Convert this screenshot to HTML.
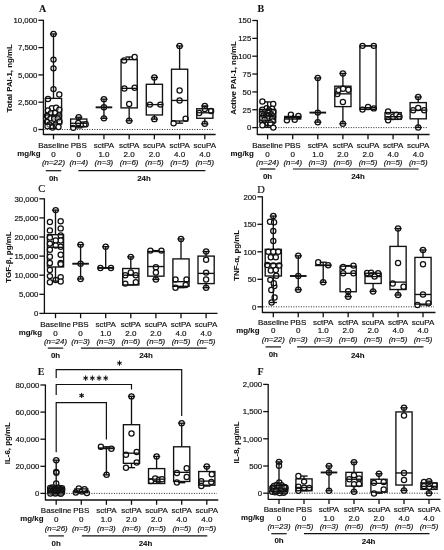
<!DOCTYPE html>
<html><head><meta charset="utf-8"><title>Figure</title>
<style>html,body{margin:0;padding:0;background:#fff}svg{display:block;will-change:transform}</style></head>
<body>
<svg width="444" height="550" viewBox="0 0 444 550">
<rect width="444" height="550" fill="#fff"/>
<text x="39.00" y="11.80" font-family="'Liberation Serif', serif" font-size="10" text-anchor="start" font-weight="bold" font-style="normal" fill="#111" stroke="#111" stroke-width="0.08" >A</text>
<text x="12.40" y="78.20" font-family="'Liberation Sans', sans-serif" font-size="7.9" text-anchor="middle" font-weight="bold" font-style="normal" fill="#111" stroke="#111" stroke-width="0.08" transform="rotate(-90 12.40 78.20)" >Total PAI-1, ng/mL</text>
<line x1="43.40" y1="19.80" x2="43.40" y2="135.00" stroke="#111" stroke-width="1.3" />
<line x1="38.40" y1="129.50" x2="43.40" y2="129.50" stroke="#111" stroke-width="1.3" />
<text x="37.40" y="132.30" font-family="'Liberation Sans', sans-serif" font-size="7.8" text-anchor="end" font-weight="normal" font-style="normal" fill="#111" stroke="#111" stroke-width="0.18" >0</text>
<line x1="38.40" y1="102.20" x2="43.40" y2="102.20" stroke="#111" stroke-width="1.3" />
<text x="37.40" y="105.00" font-family="'Liberation Sans', sans-serif" font-size="7.8" text-anchor="end" font-weight="normal" font-style="normal" fill="#111" stroke="#111" stroke-width="0.18" >2,500</text>
<line x1="38.40" y1="74.90" x2="43.40" y2="74.90" stroke="#111" stroke-width="1.3" />
<text x="37.40" y="77.70" font-family="'Liberation Sans', sans-serif" font-size="7.8" text-anchor="end" font-weight="normal" font-style="normal" fill="#111" stroke="#111" stroke-width="0.18" >5,000</text>
<line x1="38.40" y1="47.60" x2="43.40" y2="47.60" stroke="#111" stroke-width="1.3" />
<text x="37.40" y="50.40" font-family="'Liberation Sans', sans-serif" font-size="7.8" text-anchor="end" font-weight="normal" font-style="normal" fill="#111" stroke="#111" stroke-width="0.18" >7,500</text>
<line x1="38.40" y1="20.30" x2="43.40" y2="20.30" stroke="#111" stroke-width="1.3" />
<text x="37.40" y="23.10" font-family="'Liberation Sans', sans-serif" font-size="7.8" text-anchor="end" font-weight="normal" font-style="normal" fill="#111" stroke="#111" stroke-width="0.18" >10,000</text>
<line x1="43.40" y1="134.50" x2="215.60" y2="134.50" stroke="#111" stroke-width="1.3" />
<line x1="53.50" y1="134.50" x2="53.50" y2="139.30" stroke="#111" stroke-width="1.3" />
<line x1="78.72" y1="134.50" x2="78.72" y2="139.30" stroke="#111" stroke-width="1.3" />
<line x1="103.94" y1="134.50" x2="103.94" y2="139.30" stroke="#111" stroke-width="1.3" />
<line x1="129.16" y1="134.50" x2="129.16" y2="139.30" stroke="#111" stroke-width="1.3" />
<line x1="154.38" y1="134.50" x2="154.38" y2="139.30" stroke="#111" stroke-width="1.3" />
<line x1="179.60" y1="134.50" x2="179.60" y2="139.30" stroke="#111" stroke-width="1.3" />
<line x1="204.82" y1="134.50" x2="204.82" y2="139.30" stroke="#111" stroke-width="1.3" />
<line x1="44.40" y1="129.50" x2="214.10" y2="129.50" stroke="#111" stroke-width="0.9" stroke-dasharray="1 1.5"/>
<circle cx="53.50" cy="33.95" r="2.6" fill="#fff" stroke="#111" stroke-width="1.25"/>
<circle cx="53.50" cy="59.61" r="2.6" fill="#fff" stroke="#111" stroke-width="1.25"/>
<circle cx="53.50" cy="68.35" r="2.6" fill="#fff" stroke="#111" stroke-width="1.25"/>
<circle cx="53.50" cy="89.10" r="2.6" fill="#fff" stroke="#111" stroke-width="1.25"/>
<circle cx="59.30" cy="94.56" r="2.6" fill="#fff" stroke="#111" stroke-width="1.25"/>
<circle cx="48.00" cy="98.92" r="2.6" fill="#fff" stroke="#111" stroke-width="1.25"/>
<circle cx="51.90" cy="108.21" r="2.6" fill="#fff" stroke="#111" stroke-width="1.25"/>
<circle cx="56.10" cy="107.66" r="2.6" fill="#fff" stroke="#111" stroke-width="1.25"/>
<circle cx="47.90" cy="110.39" r="2.6" fill="#fff" fill-opacity="0.45" stroke="#111" stroke-width="1.25"/>
<circle cx="59.30" cy="109.84" r="2.6" fill="#fff" fill-opacity="0.45" stroke="#111" stroke-width="1.25"/>
<circle cx="50.90" cy="113.12" r="2.6" fill="#fff" fill-opacity="0.45" stroke="#111" stroke-width="1.25"/>
<circle cx="55.00" cy="112.90" r="2.6" fill="#fff" fill-opacity="0.45" stroke="#111" stroke-width="1.25"/>
<circle cx="47.00" cy="115.85" r="2.6" fill="#fff" fill-opacity="0.45" stroke="#111" stroke-width="1.25"/>
<circle cx="59.00" cy="115.52" r="2.6" fill="#fff" fill-opacity="0.45" stroke="#111" stroke-width="1.25"/>
<circle cx="50.50" cy="118.36" r="2.6" fill="#fff" fill-opacity="0.45" stroke="#111" stroke-width="1.25"/>
<circle cx="54.10" cy="118.80" r="2.6" fill="#fff" fill-opacity="0.45" stroke="#111" stroke-width="1.25"/>
<circle cx="57.70" cy="118.58" r="2.6" fill="#fff" fill-opacity="0.45" stroke="#111" stroke-width="1.25"/>
<circle cx="47.00" cy="121.86" r="2.6" fill="#fff" fill-opacity="0.45" stroke="#111" stroke-width="1.25"/>
<circle cx="59.50" cy="121.64" r="2.6" fill="#fff" fill-opacity="0.45" stroke="#111" stroke-width="1.25"/>
<circle cx="49.50" cy="124.48" r="2.6" fill="#fff" fill-opacity="0.45" stroke="#111" stroke-width="1.25"/>
<circle cx="55.50" cy="124.70" r="2.6" fill="#fff" fill-opacity="0.45" stroke="#111" stroke-width="1.25"/>
<circle cx="52.50" cy="127.53" r="2.6" fill="#fff" stroke="#111" stroke-width="1.25"/>
<circle cx="58.50" cy="126.99" r="2.6" fill="#fff" stroke="#111" stroke-width="1.25"/>
<circle cx="47.50" cy="126.22" r="2.6" fill="#fff" fill-opacity="0.45" stroke="#111" stroke-width="1.25"/>
<rect x="45.40" y="98.38" width="16.20" height="25.66" fill="none" stroke="#111" stroke-width="1.35"/>
<line x1="45.40" y1="114.98" x2="61.60" y2="114.98" stroke="#111" stroke-width="1.35" />
<line x1="53.50" y1="98.38" x2="53.50" y2="33.95" stroke="#111" stroke-width="1.35" />
<line x1="53.50" y1="124.04" x2="53.50" y2="128.41" stroke="#111" stroke-width="1.35" />
<line x1="49.90" y1="33.95" x2="57.10" y2="33.95" stroke="#111" stroke-width="1.35" />
<line x1="49.90" y1="128.41" x2="57.10" y2="128.41" stroke="#111" stroke-width="1.35" />
<circle cx="78.72" cy="117.27" r="2.6" fill="#fff" stroke="#111" stroke-width="1.25"/>
<circle cx="82.72" cy="124.59" r="2.6" fill="#fff" stroke="#111" stroke-width="1.25"/>
<circle cx="78.22" cy="122.95" r="2.6" fill="#fff" stroke="#111" stroke-width="1.25"/>
<circle cx="73.22" cy="127.86" r="2.6" fill="#fff" stroke="#111" stroke-width="1.25"/>
<circle cx="85.72" cy="124.26" r="2.6" fill="#fff" stroke="#111" stroke-width="1.25"/>
<rect x="70.62" y="119.02" width="16.20" height="7.53" fill="none" stroke="#111" stroke-width="1.35"/>
<line x1="70.62" y1="123.28" x2="86.82" y2="123.28" stroke="#111" stroke-width="1.35" />
<line x1="78.72" y1="119.02" x2="78.72" y2="117.27" stroke="#111" stroke-width="1.35" />
<line x1="78.72" y1="126.55" x2="78.72" y2="127.86" stroke="#111" stroke-width="1.35" />
<line x1="75.12" y1="117.27" x2="82.32" y2="117.27" stroke="#111" stroke-width="1.35" />
<line x1="75.12" y1="127.86" x2="82.32" y2="127.86" stroke="#111" stroke-width="1.35" />
<circle cx="103.94" cy="99.14" r="2.6" fill="#fff" stroke="#111" stroke-width="1.25"/>
<circle cx="103.94" cy="107.33" r="2.6" fill="#fff" stroke="#111" stroke-width="1.25"/>
<circle cx="103.94" cy="118.36" r="2.6" fill="#fff" stroke="#111" stroke-width="1.25"/>
<line x1="103.94" y1="118.36" x2="103.94" y2="99.14" stroke="#111" stroke-width="1.35" />
<line x1="100.34" y1="118.36" x2="107.54" y2="118.36" stroke="#111" stroke-width="1.35" />
<line x1="100.34" y1="99.14" x2="107.54" y2="99.14" stroke="#111" stroke-width="1.35" />
<line x1="95.64" y1="107.33" x2="112.24" y2="107.33" stroke="#111" stroke-width="1.9" />
<circle cx="134.66" cy="56.99" r="2.6" fill="#fff" stroke="#111" stroke-width="1.25"/>
<circle cx="124.16" cy="60.49" r="2.6" fill="#fff" stroke="#111" stroke-width="1.25"/>
<circle cx="124.36" cy="88.55" r="2.6" fill="#fff" stroke="#111" stroke-width="1.25"/>
<circle cx="134.66" cy="87.68" r="2.6" fill="#fff" stroke="#111" stroke-width="1.25"/>
<circle cx="129.16" cy="104.06" r="2.6" fill="#fff" stroke="#111" stroke-width="1.25"/>
<circle cx="129.16" cy="120.76" r="2.6" fill="#fff" stroke="#111" stroke-width="1.25"/>
<rect x="121.06" y="59.61" width="16.20" height="48.27" fill="none" stroke="#111" stroke-width="1.35"/>
<line x1="121.06" y1="88.33" x2="137.26" y2="88.33" stroke="#111" stroke-width="1.35" />
<line x1="129.16" y1="59.61" x2="129.16" y2="56.99" stroke="#111" stroke-width="1.35" />
<line x1="129.16" y1="107.88" x2="129.16" y2="120.76" stroke="#111" stroke-width="1.35" />
<line x1="125.56" y1="56.99" x2="132.76" y2="56.99" stroke="#111" stroke-width="1.35" />
<line x1="125.56" y1="120.76" x2="132.76" y2="120.76" stroke="#111" stroke-width="1.35" />
<circle cx="154.38" cy="77.41" r="2.6" fill="#fff" stroke="#111" stroke-width="1.25"/>
<circle cx="149.88" cy="104.60" r="2.6" fill="#fff" stroke="#111" stroke-width="1.25"/>
<circle cx="160.38" cy="104.60" r="2.6" fill="#fff" stroke="#111" stroke-width="1.25"/>
<circle cx="154.38" cy="119.13" r="2.6" fill="#fff" stroke="#111" stroke-width="1.25"/>
<rect x="146.28" y="84.29" width="16.20" height="30.69" fill="none" stroke="#111" stroke-width="1.35"/>
<line x1="146.28" y1="104.60" x2="162.48" y2="104.60" stroke="#111" stroke-width="1.35" />
<line x1="154.38" y1="84.29" x2="154.38" y2="77.41" stroke="#111" stroke-width="1.35" />
<line x1="154.38" y1="114.98" x2="154.38" y2="119.13" stroke="#111" stroke-width="1.35" />
<line x1="150.78" y1="77.41" x2="157.98" y2="77.41" stroke="#111" stroke-width="1.35" />
<line x1="150.78" y1="119.13" x2="157.98" y2="119.13" stroke="#111" stroke-width="1.35" />
<circle cx="179.60" cy="45.96" r="2.6" fill="#fff" stroke="#111" stroke-width="1.25"/>
<circle cx="179.60" cy="90.52" r="2.6" fill="#fff" stroke="#111" stroke-width="1.25"/>
<circle cx="179.60" cy="100.45" r="2.6" fill="#fff" stroke="#111" stroke-width="1.25"/>
<circle cx="185.60" cy="118.80" r="2.6" fill="#fff" stroke="#111" stroke-width="1.25"/>
<circle cx="173.60" cy="123.17" r="2.6" fill="#fff" stroke="#111" stroke-width="1.25"/>
<rect x="171.50" y="69.22" width="16.20" height="51.76" fill="none" stroke="#111" stroke-width="1.35"/>
<line x1="171.50" y1="100.45" x2="187.70" y2="100.45" stroke="#111" stroke-width="1.35" />
<line x1="179.60" y1="69.22" x2="179.60" y2="45.96" stroke="#111" stroke-width="1.35" />
<line x1="179.60" y1="120.98" x2="179.60" y2="123.17" stroke="#111" stroke-width="1.35" />
<line x1="176.00" y1="45.96" x2="183.20" y2="45.96" stroke="#111" stroke-width="1.35" />
<line x1="176.00" y1="123.17" x2="183.20" y2="123.17" stroke="#111" stroke-width="1.35" />
<circle cx="204.82" cy="105.97" r="2.6" fill="#fff" stroke="#111" stroke-width="1.25"/>
<circle cx="199.22" cy="112.90" r="2.6" fill="#fff" stroke="#111" stroke-width="1.25"/>
<circle cx="211.12" cy="110.94" r="2.6" fill="#fff" stroke="#111" stroke-width="1.25"/>
<circle cx="204.82" cy="108.97" r="2.6" fill="#fff" stroke="#111" stroke-width="1.25"/>
<circle cx="204.82" cy="123.82" r="2.6" fill="#fff" stroke="#111" stroke-width="1.25"/>
<rect x="196.72" y="108.75" width="16.20" height="9.50" fill="none" stroke="#111" stroke-width="1.35"/>
<line x1="196.72" y1="112.79" x2="212.92" y2="112.79" stroke="#111" stroke-width="1.35" />
<line x1="204.82" y1="108.75" x2="204.82" y2="105.97" stroke="#111" stroke-width="1.35" />
<line x1="204.82" y1="118.25" x2="204.82" y2="123.82" stroke="#111" stroke-width="1.35" />
<line x1="201.22" y1="105.97" x2="208.42" y2="105.97" stroke="#111" stroke-width="1.35" />
<line x1="201.22" y1="123.82" x2="208.42" y2="123.82" stroke="#111" stroke-width="1.35" />
<text x="53.50" y="147.90" font-family="'Liberation Sans', sans-serif" font-size="8.0" text-anchor="middle" font-weight="normal" font-style="normal" fill="#111" stroke="#111" stroke-width="0.18" >Baseline</text>
<text x="53.50" y="156.60" font-family="'Liberation Sans', sans-serif" font-size="8.0" text-anchor="middle" font-weight="normal" font-style="normal" fill="#111" stroke="#111" stroke-width="0.18" >0</text>
<text x="53.50" y="165.40" font-family="'Liberation Sans', sans-serif" font-size="7.9" text-anchor="middle" font-weight="normal" font-style="italic" fill="#111" stroke="#111" stroke-width="0.18" >(n=22)</text>
<text x="78.72" y="147.90" font-family="'Liberation Sans', sans-serif" font-size="8.0" text-anchor="middle" font-weight="normal" font-style="normal" fill="#111" stroke="#111" stroke-width="0.18" >PBS</text>
<text x="78.72" y="156.60" font-family="'Liberation Sans', sans-serif" font-size="8.0" text-anchor="middle" font-weight="normal" font-style="normal" fill="#111" stroke="#111" stroke-width="0.18" >0</text>
<text x="78.72" y="165.40" font-family="'Liberation Sans', sans-serif" font-size="7.9" text-anchor="middle" font-weight="normal" font-style="italic" fill="#111" stroke="#111" stroke-width="0.18" >(n=4)</text>
<text x="103.94" y="147.90" font-family="'Liberation Sans', sans-serif" font-size="8.0" text-anchor="middle" font-weight="normal" font-style="normal" fill="#111" stroke="#111" stroke-width="0.18" >sctPA</text>
<text x="103.94" y="156.60" font-family="'Liberation Sans', sans-serif" font-size="8.0" text-anchor="middle" font-weight="normal" font-style="normal" fill="#111" stroke="#111" stroke-width="0.18" >1.0</text>
<text x="103.94" y="165.40" font-family="'Liberation Sans', sans-serif" font-size="7.9" text-anchor="middle" font-weight="normal" font-style="italic" fill="#111" stroke="#111" stroke-width="0.18" >(n=3)</text>
<text x="129.16" y="147.90" font-family="'Liberation Sans', sans-serif" font-size="8.0" text-anchor="middle" font-weight="normal" font-style="normal" fill="#111" stroke="#111" stroke-width="0.18" >sctPA</text>
<text x="129.16" y="156.60" font-family="'Liberation Sans', sans-serif" font-size="8.0" text-anchor="middle" font-weight="normal" font-style="normal" fill="#111" stroke="#111" stroke-width="0.18" >2.0</text>
<text x="129.16" y="165.40" font-family="'Liberation Sans', sans-serif" font-size="7.9" text-anchor="middle" font-weight="normal" font-style="italic" fill="#111" stroke="#111" stroke-width="0.18" >(n=6)</text>
<text x="154.38" y="147.90" font-family="'Liberation Sans', sans-serif" font-size="8.0" text-anchor="middle" font-weight="normal" font-style="normal" fill="#111" stroke="#111" stroke-width="0.18" >scuPA</text>
<text x="154.38" y="156.60" font-family="'Liberation Sans', sans-serif" font-size="8.0" text-anchor="middle" font-weight="normal" font-style="normal" fill="#111" stroke="#111" stroke-width="0.18" >2.0</text>
<text x="154.38" y="165.40" font-family="'Liberation Sans', sans-serif" font-size="7.9" text-anchor="middle" font-weight="normal" font-style="italic" fill="#111" stroke="#111" stroke-width="0.18" >(n=5)</text>
<text x="179.60" y="147.90" font-family="'Liberation Sans', sans-serif" font-size="8.0" text-anchor="middle" font-weight="normal" font-style="normal" fill="#111" stroke="#111" stroke-width="0.18" >sctPA</text>
<text x="179.60" y="156.60" font-family="'Liberation Sans', sans-serif" font-size="8.0" text-anchor="middle" font-weight="normal" font-style="normal" fill="#111" stroke="#111" stroke-width="0.18" >4.0</text>
<text x="179.60" y="165.40" font-family="'Liberation Sans', sans-serif" font-size="7.9" text-anchor="middle" font-weight="normal" font-style="italic" fill="#111" stroke="#111" stroke-width="0.18" >(n=5)</text>
<text x="204.82" y="147.90" font-family="'Liberation Sans', sans-serif" font-size="8.0" text-anchor="middle" font-weight="normal" font-style="normal" fill="#111" stroke="#111" stroke-width="0.18" >scuPA</text>
<text x="204.82" y="156.60" font-family="'Liberation Sans', sans-serif" font-size="8.0" text-anchor="middle" font-weight="normal" font-style="normal" fill="#111" stroke="#111" stroke-width="0.18" >4.0</text>
<text x="204.82" y="165.40" font-family="'Liberation Sans', sans-serif" font-size="7.9" text-anchor="middle" font-weight="normal" font-style="italic" fill="#111" stroke="#111" stroke-width="0.18" >(n=5)</text>
<text x="40.60" y="155.60" font-family="'Liberation Sans', sans-serif" font-size="7.9" text-anchor="end" font-weight="bold" font-style="normal" fill="#111" stroke="#111" stroke-width="0.08" >mg/kg</text>
<line x1="45.80" y1="170.70" x2="61.20" y2="170.70" stroke="#111" stroke-width="1.2" />
<text x="53.50" y="180.70" font-family="'Liberation Sans', sans-serif" font-size="7.9" text-anchor="middle" font-weight="bold" font-style="normal" fill="#111" stroke="#111" stroke-width="0.08" >0h</text>
<line x1="78.32" y1="170.70" x2="205.32" y2="170.70" stroke="#111" stroke-width="1.2" />
<text x="144.00" y="180.70" font-family="'Liberation Sans', sans-serif" font-size="7.9" text-anchor="middle" font-weight="bold" font-style="normal" fill="#111" stroke="#111" stroke-width="0.08" >24h</text>
<text x="257.50" y="11.80" font-family="'Liberation Serif', serif" font-size="10" text-anchor="start" font-weight="bold" font-style="normal" fill="#111" stroke="#111" stroke-width="0.08" >B</text>
<text x="235.60" y="78.00" font-family="'Liberation Sans', sans-serif" font-size="7.9" text-anchor="middle" font-weight="bold" font-style="normal" fill="#111" stroke="#111" stroke-width="0.08" transform="rotate(-90 235.60 78.00)" >Active PAI-1, ng/mL</text>
<line x1="257.30" y1="20.00" x2="257.30" y2="135.00" stroke="#111" stroke-width="1.3" />
<line x1="252.30" y1="127.60" x2="257.30" y2="127.60" stroke="#111" stroke-width="1.3" />
<text x="251.30" y="130.40" font-family="'Liberation Sans', sans-serif" font-size="7.8" text-anchor="end" font-weight="normal" font-style="normal" fill="#111" stroke="#111" stroke-width="0.18" >0</text>
<line x1="252.30" y1="109.75" x2="257.30" y2="109.75" stroke="#111" stroke-width="1.3" />
<text x="251.30" y="112.55" font-family="'Liberation Sans', sans-serif" font-size="7.8" text-anchor="end" font-weight="normal" font-style="normal" fill="#111" stroke="#111" stroke-width="0.18" >25</text>
<line x1="252.30" y1="91.90" x2="257.30" y2="91.90" stroke="#111" stroke-width="1.3" />
<text x="251.30" y="94.70" font-family="'Liberation Sans', sans-serif" font-size="7.8" text-anchor="end" font-weight="normal" font-style="normal" fill="#111" stroke="#111" stroke-width="0.18" >50</text>
<line x1="252.30" y1="74.05" x2="257.30" y2="74.05" stroke="#111" stroke-width="1.3" />
<text x="251.30" y="76.85" font-family="'Liberation Sans', sans-serif" font-size="7.8" text-anchor="end" font-weight="normal" font-style="normal" fill="#111" stroke="#111" stroke-width="0.18" >75</text>
<line x1="252.30" y1="56.20" x2="257.30" y2="56.20" stroke="#111" stroke-width="1.3" />
<text x="251.30" y="59.00" font-family="'Liberation Sans', sans-serif" font-size="7.8" text-anchor="end" font-weight="normal" font-style="normal" fill="#111" stroke="#111" stroke-width="0.18" >100</text>
<line x1="252.30" y1="38.35" x2="257.30" y2="38.35" stroke="#111" stroke-width="1.3" />
<text x="251.30" y="41.15" font-family="'Liberation Sans', sans-serif" font-size="7.8" text-anchor="end" font-weight="normal" font-style="normal" fill="#111" stroke="#111" stroke-width="0.18" >125</text>
<line x1="252.30" y1="20.50" x2="257.30" y2="20.50" stroke="#111" stroke-width="1.3" />
<text x="251.30" y="23.30" font-family="'Liberation Sans', sans-serif" font-size="7.8" text-anchor="end" font-weight="normal" font-style="normal" fill="#111" stroke="#111" stroke-width="0.18" >150</text>
<line x1="257.30" y1="134.50" x2="429.60" y2="134.50" stroke="#111" stroke-width="1.3" />
<line x1="267.60" y1="134.50" x2="267.60" y2="139.30" stroke="#111" stroke-width="1.3" />
<line x1="292.70" y1="134.50" x2="292.70" y2="139.30" stroke="#111" stroke-width="1.3" />
<line x1="317.80" y1="134.50" x2="317.80" y2="139.30" stroke="#111" stroke-width="1.3" />
<line x1="342.90" y1="134.50" x2="342.90" y2="139.30" stroke="#111" stroke-width="1.3" />
<line x1="368.00" y1="134.50" x2="368.00" y2="139.30" stroke="#111" stroke-width="1.3" />
<line x1="393.10" y1="134.50" x2="393.10" y2="139.30" stroke="#111" stroke-width="1.3" />
<line x1="418.20" y1="134.50" x2="418.20" y2="139.30" stroke="#111" stroke-width="1.3" />
<line x1="258.30" y1="127.60" x2="428.10" y2="127.60" stroke="#111" stroke-width="0.9" stroke-dasharray="1 1.5"/>
<circle cx="262.40" cy="101.54" r="2.6" fill="#fff" stroke="#111" stroke-width="1.25"/>
<circle cx="273.20" cy="104.04" r="2.6" fill="#fff" stroke="#111" stroke-width="1.25"/>
<circle cx="266.60" cy="108.32" r="2.6" fill="#fff" stroke="#111" stroke-width="1.25"/>
<circle cx="272.10" cy="108.68" r="2.6" fill="#fff" stroke="#111" stroke-width="1.25"/>
<circle cx="262.30" cy="109.75" r="2.6" fill="#fff" stroke="#111" stroke-width="1.25"/>
<circle cx="269.10" cy="110.46" r="2.6" fill="#fff" fill-opacity="0.35" stroke="#111" stroke-width="1.25"/>
<circle cx="273.40" cy="111.89" r="2.6" fill="#fff" fill-opacity="0.35" stroke="#111" stroke-width="1.25"/>
<circle cx="264.60" cy="112.25" r="2.6" fill="#fff" fill-opacity="0.35" stroke="#111" stroke-width="1.25"/>
<circle cx="268.10" cy="112.96" r="2.6" fill="#fff" fill-opacity="0.35" stroke="#111" stroke-width="1.25"/>
<circle cx="262.10" cy="113.68" r="2.6" fill="#fff" fill-opacity="0.35" stroke="#111" stroke-width="1.25"/>
<circle cx="271.10" cy="114.39" r="2.6" fill="#fff" fill-opacity="0.35" stroke="#111" stroke-width="1.25"/>
<circle cx="266.10" cy="114.75" r="2.6" fill="#fff" fill-opacity="0.35" stroke="#111" stroke-width="1.25"/>
<circle cx="263.60" cy="115.46" r="2.6" fill="#fff" fill-opacity="0.35" stroke="#111" stroke-width="1.25"/>
<circle cx="268.60" cy="115.82" r="2.6" fill="#fff" fill-opacity="0.35" stroke="#111" stroke-width="1.25"/>
<circle cx="273.10" cy="116.18" r="2.6" fill="#fff" fill-opacity="0.35" stroke="#111" stroke-width="1.25"/>
<circle cx="265.10" cy="116.89" r="2.6" fill="#fff" fill-opacity="0.35" stroke="#111" stroke-width="1.25"/>
<circle cx="270.10" cy="117.25" r="2.6" fill="#fff" fill-opacity="0.35" stroke="#111" stroke-width="1.25"/>
<circle cx="262.10" cy="117.96" r="2.6" fill="#fff" fill-opacity="0.35" stroke="#111" stroke-width="1.25"/>
<circle cx="267.60" cy="118.32" r="2.6" fill="#fff" fill-opacity="0.35" stroke="#111" stroke-width="1.25"/>
<circle cx="272.10" cy="119.03" r="2.6" fill="#fff" fill-opacity="0.35" stroke="#111" stroke-width="1.25"/>
<circle cx="264.60" cy="119.75" r="2.6" fill="#fff" fill-opacity="0.35" stroke="#111" stroke-width="1.25"/>
<circle cx="272.80" cy="121.53" r="2.6" fill="#fff" stroke="#111" stroke-width="1.25"/>
<circle cx="265.20" cy="123.32" r="2.6" fill="#fff" stroke="#111" stroke-width="1.25"/>
<circle cx="267.80" cy="123.32" r="2.6" fill="#fff" stroke="#111" stroke-width="1.25"/>
<circle cx="270.40" cy="123.32" r="2.6" fill="#fff" stroke="#111" stroke-width="1.25"/>
<circle cx="262.40" cy="125.17" r="2.6" fill="#fff" stroke="#111" stroke-width="1.25"/>
<circle cx="273.30" cy="127.60" r="2.6" fill="#fff" stroke="#111" stroke-width="1.25"/>
<rect x="259.50" y="109.39" width="16.20" height="12.85" fill="none" stroke="#111" stroke-width="1.35"/>
<line x1="259.50" y1="115.82" x2="275.70" y2="115.82" stroke="#111" stroke-width="1.35" />
<line x1="267.60" y1="109.39" x2="267.60" y2="101.90" stroke="#111" stroke-width="1.35" />
<line x1="267.60" y1="122.24" x2="267.60" y2="127.39" stroke="#111" stroke-width="1.35" />
<line x1="264.40" y1="101.90" x2="270.80" y2="101.90" stroke="#111" stroke-width="1.35" />
<line x1="264.40" y1="127.39" x2="270.80" y2="127.39" stroke="#111" stroke-width="1.35" />
<circle cx="286.90" cy="120.25" r="2.6" fill="#fff" stroke="#111" stroke-width="1.25"/>
<circle cx="290.90" cy="114.75" r="2.6" fill="#fff" stroke="#111" stroke-width="1.25"/>
<circle cx="294.70" cy="119.67" r="2.6" fill="#fff" stroke="#111" stroke-width="1.25"/>
<circle cx="298.40" cy="115.96" r="2.6" fill="#fff" stroke="#111" stroke-width="1.25"/>
<rect x="284.70" y="116.46" width="16.00" height="2.57" fill="none" stroke="#111" stroke-width="1.35"/>
<line x1="284.70" y1="117.60" x2="300.70" y2="117.60" stroke="#111" stroke-width="1.35" />
<line x1="292.70" y1="116.46" x2="292.70" y2="114.75" stroke="#111" stroke-width="1.35" />
<line x1="292.70" y1="119.03" x2="292.70" y2="120.25" stroke="#111" stroke-width="1.35" />
<line x1="292.70" y1="114.75" x2="292.70" y2="114.75" stroke="#111" stroke-width="1.35" />
<line x1="292.70" y1="120.25" x2="292.70" y2="120.25" stroke="#111" stroke-width="1.35" />
<circle cx="317.80" cy="77.91" r="2.6" fill="#fff" stroke="#111" stroke-width="1.25"/>
<circle cx="317.80" cy="112.61" r="2.6" fill="#fff" stroke="#111" stroke-width="1.25"/>
<circle cx="317.80" cy="122.17" r="2.6" fill="#fff" stroke="#111" stroke-width="1.25"/>
<line x1="317.80" y1="122.17" x2="317.80" y2="77.91" stroke="#111" stroke-width="1.35" />
<line x1="314.20" y1="122.17" x2="321.40" y2="122.17" stroke="#111" stroke-width="1.35" />
<line x1="314.20" y1="77.91" x2="321.40" y2="77.91" stroke="#111" stroke-width="1.35" />
<line x1="309.50" y1="112.61" x2="326.10" y2="112.61" stroke="#111" stroke-width="1.9" />
<circle cx="342.90" cy="73.48" r="2.6" fill="#fff" stroke="#111" stroke-width="1.25"/>
<circle cx="337.40" cy="94.04" r="2.6" fill="#fff" stroke="#111" stroke-width="1.25"/>
<circle cx="338.50" cy="90.11" r="2.6" fill="#fff" stroke="#111" stroke-width="1.25"/>
<circle cx="343.10" cy="88.83" r="2.6" fill="#fff" stroke="#111" stroke-width="1.25"/>
<circle cx="348.40" cy="89.76" r="2.6" fill="#fff" stroke="#111" stroke-width="1.25"/>
<circle cx="342.90" cy="101.90" r="2.6" fill="#fff" stroke="#111" stroke-width="1.25"/>
<circle cx="342.90" cy="123.74" r="2.6" fill="#fff" stroke="#111" stroke-width="1.25"/>
<rect x="334.80" y="86.19" width="16.20" height="20.42" fill="none" stroke="#111" stroke-width="1.35"/>
<line x1="334.80" y1="93.83" x2="351.00" y2="93.83" stroke="#111" stroke-width="1.35" />
<line x1="342.90" y1="86.19" x2="342.90" y2="73.48" stroke="#111" stroke-width="1.35" />
<line x1="342.90" y1="106.61" x2="342.90" y2="123.74" stroke="#111" stroke-width="1.35" />
<line x1="339.30" y1="73.48" x2="346.50" y2="73.48" stroke="#111" stroke-width="1.35" />
<line x1="339.30" y1="123.74" x2="346.50" y2="123.74" stroke="#111" stroke-width="1.35" />
<circle cx="362.50" cy="45.85" r="2.6" fill="#fff" stroke="#111" stroke-width="1.25"/>
<circle cx="373.80" cy="45.85" r="2.6" fill="#fff" stroke="#111" stroke-width="1.25"/>
<circle cx="362.50" cy="109.61" r="2.6" fill="#fff" stroke="#111" stroke-width="1.25"/>
<circle cx="368.00" cy="106.97" r="2.6" fill="#fff" stroke="#111" stroke-width="1.25"/>
<circle cx="373.80" cy="108.39" r="2.6" fill="#fff" stroke="#111" stroke-width="1.25"/>
<rect x="359.90" y="45.85" width="16.20" height="63.47" fill="none" stroke="#111" stroke-width="1.35"/>
<line x1="359.90" y1="107.61" x2="376.10" y2="107.61" stroke="#111" stroke-width="1.35" />
<line x1="368.00" y1="45.85" x2="368.00" y2="45.85" stroke="#111" stroke-width="1.35" />
<line x1="368.00" y1="109.32" x2="368.00" y2="109.39" stroke="#111" stroke-width="1.35" />
<line x1="364.40" y1="45.85" x2="371.60" y2="45.85" stroke="#111" stroke-width="1.35" />
<line x1="364.40" y1="109.39" x2="371.60" y2="109.39" stroke="#111" stroke-width="1.35" />
<circle cx="388.10" cy="111.53" r="2.6" fill="#fff" stroke="#111" stroke-width="1.25"/>
<circle cx="388.10" cy="120.25" r="2.6" fill="#fff" stroke="#111" stroke-width="1.25"/>
<circle cx="393.10" cy="116.68" r="2.6" fill="#fff" stroke="#111" stroke-width="1.25"/>
<circle cx="396.40" cy="114.75" r="2.6" fill="#fff" stroke="#111" stroke-width="1.25"/>
<circle cx="399.50" cy="116.68" r="2.6" fill="#fff" stroke="#111" stroke-width="1.25"/>
<rect x="385.00" y="112.61" width="16.20" height="6.78" fill="none" stroke="#111" stroke-width="1.35"/>
<line x1="385.00" y1="116.68" x2="401.20" y2="116.68" stroke="#111" stroke-width="1.35" />
<line x1="393.10" y1="112.61" x2="393.10" y2="111.53" stroke="#111" stroke-width="1.35" />
<line x1="393.10" y1="119.39" x2="393.10" y2="120.25" stroke="#111" stroke-width="1.35" />
<line x1="393.10" y1="111.53" x2="393.10" y2="111.53" stroke="#111" stroke-width="1.35" />
<line x1="393.10" y1="120.25" x2="393.10" y2="120.25" stroke="#111" stroke-width="1.35" />
<circle cx="418.20" cy="96.97" r="2.6" fill="#fff" stroke="#111" stroke-width="1.25"/>
<circle cx="413.20" cy="110.18" r="2.6" fill="#fff" stroke="#111" stroke-width="1.25"/>
<circle cx="418.20" cy="107.97" r="2.6" fill="#fff" stroke="#111" stroke-width="1.25"/>
<circle cx="424.20" cy="110.18" r="2.6" fill="#fff" stroke="#111" stroke-width="1.25"/>
<circle cx="418.20" cy="127.46" r="2.6" fill="#fff" stroke="#111" stroke-width="1.25"/>
<rect x="410.10" y="102.61" width="16.20" height="16.21" fill="none" stroke="#111" stroke-width="1.35"/>
<line x1="410.10" y1="110.18" x2="426.30" y2="110.18" stroke="#111" stroke-width="1.35" />
<line x1="418.20" y1="102.61" x2="418.20" y2="96.97" stroke="#111" stroke-width="1.35" />
<line x1="418.20" y1="118.82" x2="418.20" y2="127.46" stroke="#111" stroke-width="1.35" />
<line x1="414.60" y1="96.97" x2="421.80" y2="96.97" stroke="#111" stroke-width="1.35" />
<line x1="414.60" y1="127.46" x2="421.80" y2="127.46" stroke="#111" stroke-width="1.35" />
<text x="267.60" y="148.20" font-family="'Liberation Sans', sans-serif" font-size="8.0" text-anchor="middle" font-weight="normal" font-style="normal" fill="#111" stroke="#111" stroke-width="0.18" >Baseline</text>
<text x="267.60" y="156.90" font-family="'Liberation Sans', sans-serif" font-size="8.0" text-anchor="middle" font-weight="normal" font-style="normal" fill="#111" stroke="#111" stroke-width="0.18" >0</text>
<text x="267.60" y="165.00" font-family="'Liberation Sans', sans-serif" font-size="7.9" text-anchor="middle" font-weight="normal" font-style="italic" fill="#111" stroke="#111" stroke-width="0.18" >(n=24)</text>
<text x="292.70" y="148.20" font-family="'Liberation Sans', sans-serif" font-size="8.0" text-anchor="middle" font-weight="normal" font-style="normal" fill="#111" stroke="#111" stroke-width="0.18" >PBS</text>
<text x="292.70" y="156.90" font-family="'Liberation Sans', sans-serif" font-size="8.0" text-anchor="middle" font-weight="normal" font-style="normal" fill="#111" stroke="#111" stroke-width="0.18" >0</text>
<text x="292.70" y="165.00" font-family="'Liberation Sans', sans-serif" font-size="7.9" text-anchor="middle" font-weight="normal" font-style="italic" fill="#111" stroke="#111" stroke-width="0.18" >(n=4)</text>
<text x="317.80" y="148.20" font-family="'Liberation Sans', sans-serif" font-size="8.0" text-anchor="middle" font-weight="normal" font-style="normal" fill="#111" stroke="#111" stroke-width="0.18" >sctPA</text>
<text x="317.80" y="156.90" font-family="'Liberation Sans', sans-serif" font-size="8.0" text-anchor="middle" font-weight="normal" font-style="normal" fill="#111" stroke="#111" stroke-width="0.18" >1.0</text>
<text x="317.80" y="165.00" font-family="'Liberation Sans', sans-serif" font-size="7.9" text-anchor="middle" font-weight="normal" font-style="italic" fill="#111" stroke="#111" stroke-width="0.18" >(n=3)</text>
<text x="342.90" y="148.20" font-family="'Liberation Sans', sans-serif" font-size="8.0" text-anchor="middle" font-weight="normal" font-style="normal" fill="#111" stroke="#111" stroke-width="0.18" >sctPA</text>
<text x="342.90" y="156.90" font-family="'Liberation Sans', sans-serif" font-size="8.0" text-anchor="middle" font-weight="normal" font-style="normal" fill="#111" stroke="#111" stroke-width="0.18" >2.0</text>
<text x="342.90" y="165.00" font-family="'Liberation Sans', sans-serif" font-size="7.9" text-anchor="middle" font-weight="normal" font-style="italic" fill="#111" stroke="#111" stroke-width="0.18" >(n=6)</text>
<text x="368.00" y="148.20" font-family="'Liberation Sans', sans-serif" font-size="8.0" text-anchor="middle" font-weight="normal" font-style="normal" fill="#111" stroke="#111" stroke-width="0.18" >scuPA</text>
<text x="368.00" y="156.90" font-family="'Liberation Sans', sans-serif" font-size="8.0" text-anchor="middle" font-weight="normal" font-style="normal" fill="#111" stroke="#111" stroke-width="0.18" >2.0</text>
<text x="368.00" y="165.00" font-family="'Liberation Sans', sans-serif" font-size="7.9" text-anchor="middle" font-weight="normal" font-style="italic" fill="#111" stroke="#111" stroke-width="0.18" >(n=5)</text>
<text x="393.10" y="148.20" font-family="'Liberation Sans', sans-serif" font-size="8.0" text-anchor="middle" font-weight="normal" font-style="normal" fill="#111" stroke="#111" stroke-width="0.18" >sctPA</text>
<text x="393.10" y="156.90" font-family="'Liberation Sans', sans-serif" font-size="8.0" text-anchor="middle" font-weight="normal" font-style="normal" fill="#111" stroke="#111" stroke-width="0.18" >4.0</text>
<text x="393.10" y="165.00" font-family="'Liberation Sans', sans-serif" font-size="7.9" text-anchor="middle" font-weight="normal" font-style="italic" fill="#111" stroke="#111" stroke-width="0.18" >(n=5)</text>
<text x="418.20" y="148.20" font-family="'Liberation Sans', sans-serif" font-size="8.0" text-anchor="middle" font-weight="normal" font-style="normal" fill="#111" stroke="#111" stroke-width="0.18" >scuPA</text>
<text x="418.20" y="156.90" font-family="'Liberation Sans', sans-serif" font-size="8.0" text-anchor="middle" font-weight="normal" font-style="normal" fill="#111" stroke="#111" stroke-width="0.18" >4.0</text>
<text x="418.20" y="165.00" font-family="'Liberation Sans', sans-serif" font-size="7.9" text-anchor="middle" font-weight="normal" font-style="italic" fill="#111" stroke="#111" stroke-width="0.18" >(n=5)</text>
<text x="253.80" y="155.60" font-family="'Liberation Sans', sans-serif" font-size="7.9" text-anchor="end" font-weight="bold" font-style="normal" fill="#111" stroke="#111" stroke-width="0.08" >mg/kg</text>
<line x1="259.90" y1="169.00" x2="275.30" y2="169.00" stroke="#111" stroke-width="1.2" />
<text x="267.60" y="178.70" font-family="'Liberation Sans', sans-serif" font-size="7.9" text-anchor="middle" font-weight="bold" font-style="normal" fill="#111" stroke="#111" stroke-width="0.08" >0h</text>
<line x1="292.90" y1="169.00" x2="418.70" y2="169.00" stroke="#111" stroke-width="1.2" />
<text x="358.00" y="178.70" font-family="'Liberation Sans', sans-serif" font-size="7.9" text-anchor="middle" font-weight="bold" font-style="normal" fill="#111" stroke="#111" stroke-width="0.08" >24h</text>
<text x="38.30" y="191.60" font-family="'Liberation Serif', serif" font-size="10.5" text-anchor="start" font-weight="normal" font-style="normal" fill="#111" stroke="#111" stroke-width="0.18" >C</text>
<text x="11.50" y="257.10" font-family="'Liberation Sans', sans-serif" font-size="7.9" text-anchor="middle" font-weight="bold" font-style="normal" fill="#111" stroke="#111" stroke-width="0.08" transform="rotate(-90 11.50 257.10)" >TGF-β, pg/mL</text>
<line x1="44.40" y1="198.30" x2="44.40" y2="313.90" stroke="#111" stroke-width="1.3" />
<line x1="39.40" y1="313.40" x2="44.40" y2="313.40" stroke="#111" stroke-width="1.3" />
<text x="38.40" y="316.20" font-family="'Liberation Sans', sans-serif" font-size="7.8" text-anchor="end" font-weight="normal" font-style="normal" fill="#111" stroke="#111" stroke-width="0.18" >0</text>
<line x1="39.40" y1="294.30" x2="44.40" y2="294.30" stroke="#111" stroke-width="1.3" />
<text x="38.40" y="297.10" font-family="'Liberation Sans', sans-serif" font-size="7.8" text-anchor="end" font-weight="normal" font-style="normal" fill="#111" stroke="#111" stroke-width="0.18" >5,000</text>
<line x1="39.40" y1="275.20" x2="44.40" y2="275.20" stroke="#111" stroke-width="1.3" />
<text x="38.40" y="278.00" font-family="'Liberation Sans', sans-serif" font-size="7.8" text-anchor="end" font-weight="normal" font-style="normal" fill="#111" stroke="#111" stroke-width="0.18" >10,000</text>
<line x1="39.40" y1="256.10" x2="44.40" y2="256.10" stroke="#111" stroke-width="1.3" />
<text x="38.40" y="258.90" font-family="'Liberation Sans', sans-serif" font-size="7.8" text-anchor="end" font-weight="normal" font-style="normal" fill="#111" stroke="#111" stroke-width="0.18" >15,000</text>
<line x1="39.40" y1="237.00" x2="44.40" y2="237.00" stroke="#111" stroke-width="1.3" />
<text x="38.40" y="239.80" font-family="'Liberation Sans', sans-serif" font-size="7.8" text-anchor="end" font-weight="normal" font-style="normal" fill="#111" stroke="#111" stroke-width="0.18" >20,000</text>
<line x1="39.40" y1="217.90" x2="44.40" y2="217.90" stroke="#111" stroke-width="1.3" />
<text x="38.40" y="220.70" font-family="'Liberation Sans', sans-serif" font-size="7.8" text-anchor="end" font-weight="normal" font-style="normal" fill="#111" stroke="#111" stroke-width="0.18" >25,000</text>
<line x1="39.40" y1="198.80" x2="44.40" y2="198.80" stroke="#111" stroke-width="1.3" />
<text x="38.40" y="201.60" font-family="'Liberation Sans', sans-serif" font-size="7.8" text-anchor="end" font-weight="normal" font-style="normal" fill="#111" stroke="#111" stroke-width="0.18" >30,000</text>
<line x1="44.40" y1="313.40" x2="217.50" y2="313.40" stroke="#111" stroke-width="1.3" />
<line x1="55.50" y1="313.40" x2="55.50" y2="318.20" stroke="#111" stroke-width="1.3" />
<line x1="80.60" y1="313.40" x2="80.60" y2="318.20" stroke="#111" stroke-width="1.3" />
<line x1="105.70" y1="313.40" x2="105.70" y2="318.20" stroke="#111" stroke-width="1.3" />
<line x1="130.80" y1="313.40" x2="130.80" y2="318.20" stroke="#111" stroke-width="1.3" />
<line x1="155.90" y1="313.40" x2="155.90" y2="318.20" stroke="#111" stroke-width="1.3" />
<line x1="181.00" y1="313.40" x2="181.00" y2="318.20" stroke="#111" stroke-width="1.3" />
<line x1="206.10" y1="313.40" x2="206.10" y2="318.20" stroke="#111" stroke-width="1.3" />
<circle cx="49.90" cy="221.91" r="2.6" fill="#fff" stroke="#111" stroke-width="1.25"/>
<circle cx="49.90" cy="230.39" r="2.6" fill="#fff" stroke="#111" stroke-width="1.25"/>
<circle cx="49.90" cy="237.50" r="2.6" fill="#fff" stroke="#111" stroke-width="1.25"/>
<circle cx="49.90" cy="243.61" r="2.6" fill="#fff" stroke="#111" stroke-width="1.25"/>
<circle cx="49.90" cy="249.68" r="2.6" fill="#fff" stroke="#111" stroke-width="1.25"/>
<circle cx="49.90" cy="256.79" r="2.6" fill="#fff" stroke="#111" stroke-width="1.25"/>
<circle cx="49.90" cy="262.90" r="2.6" fill="#fff" stroke="#111" stroke-width="1.25"/>
<circle cx="49.90" cy="270.00" r="2.6" fill="#fff" stroke="#111" stroke-width="1.25"/>
<circle cx="49.90" cy="276.12" r="2.6" fill="#fff" stroke="#111" stroke-width="1.25"/>
<circle cx="49.90" cy="282.19" r="2.6" fill="#fff" stroke="#111" stroke-width="1.25"/>
<circle cx="60.70" cy="221.34" r="2.6" fill="#fff" stroke="#111" stroke-width="1.25"/>
<circle cx="60.70" cy="228.40" r="2.6" fill="#fff" stroke="#111" stroke-width="1.25"/>
<circle cx="60.70" cy="235.51" r="2.6" fill="#fff" stroke="#111" stroke-width="1.25"/>
<circle cx="60.70" cy="240.59" r="2.6" fill="#fff" stroke="#111" stroke-width="1.25"/>
<circle cx="60.70" cy="246.70" r="2.6" fill="#fff" stroke="#111" stroke-width="1.25"/>
<circle cx="60.70" cy="254.80" r="2.6" fill="#fff" stroke="#111" stroke-width="1.25"/>
<circle cx="60.70" cy="262.90" r="2.6" fill="#fff" stroke="#111" stroke-width="1.25"/>
<circle cx="60.70" cy="264.12" r="2.6" fill="#fff" stroke="#111" stroke-width="1.25"/>
<circle cx="60.70" cy="277.11" r="2.6" fill="#fff" stroke="#111" stroke-width="1.25"/>
<circle cx="60.70" cy="281.50" r="2.6" fill="#fff" stroke="#111" stroke-width="1.25"/>
<circle cx="55.70" cy="210.11" r="2.6" fill="#fff" stroke="#111" stroke-width="1.25"/>
<circle cx="55.70" cy="240.59" r="2.6" fill="#fff" stroke="#111" stroke-width="1.25"/>
<circle cx="55.70" cy="245.59" r="2.6" fill="#fff" stroke="#111" stroke-width="1.25"/>
<circle cx="55.70" cy="280.09" r="2.6" fill="#fff" stroke="#111" stroke-width="1.25"/>
<rect x="47.40" y="234.71" width="16.20" height="32.28" fill="none" stroke="#111" stroke-width="1.35"/>
<line x1="47.40" y1="247.31" x2="63.60" y2="247.31" stroke="#111" stroke-width="1.35" />
<line x1="55.50" y1="234.71" x2="55.50" y2="210.11" stroke="#111" stroke-width="1.35" />
<line x1="55.50" y1="266.99" x2="55.50" y2="281.12" stroke="#111" stroke-width="1.35" />
<line x1="51.90" y1="210.11" x2="59.10" y2="210.11" stroke="#111" stroke-width="1.35" />
<line x1="51.90" y1="281.12" x2="59.10" y2="281.12" stroke="#111" stroke-width="1.35" />
<circle cx="80.60" cy="244.64" r="2.6" fill="#fff" stroke="#111" stroke-width="1.25"/>
<circle cx="80.60" cy="263.74" r="2.6" fill="#fff" stroke="#111" stroke-width="1.25"/>
<circle cx="80.60" cy="279.02" r="2.6" fill="#fff" stroke="#111" stroke-width="1.25"/>
<line x1="80.60" y1="279.02" x2="80.60" y2="244.64" stroke="#111" stroke-width="1.35" />
<line x1="77.00" y1="279.02" x2="84.20" y2="279.02" stroke="#111" stroke-width="1.35" />
<line x1="77.00" y1="244.64" x2="84.20" y2="244.64" stroke="#111" stroke-width="1.35" />
<line x1="72.30" y1="263.74" x2="88.90" y2="263.74" stroke="#111" stroke-width="1.9" />
<circle cx="105.70" cy="246.66" r="2.6" fill="#fff" stroke="#111" stroke-width="1.25"/>
<circle cx="100.40" cy="267.94" r="2.6" fill="#fff" stroke="#111" stroke-width="1.25"/>
<circle cx="111.00" cy="267.94" r="2.6" fill="#fff" stroke="#111" stroke-width="1.25"/>
<line x1="105.70" y1="267.94" x2="105.70" y2="246.66" stroke="#111" stroke-width="1.35" />
<line x1="102.10" y1="267.94" x2="109.30" y2="267.94" stroke="#111" stroke-width="1.35" />
<line x1="102.10" y1="246.66" x2="109.30" y2="246.66" stroke="#111" stroke-width="1.35" />
<line x1="97.40" y1="267.94" x2="114.00" y2="267.94" stroke="#111" stroke-width="1.9" />
<circle cx="130.80" cy="256.86" r="2.6" fill="#fff" stroke="#111" stroke-width="1.25"/>
<circle cx="130.80" cy="272.53" r="2.6" fill="#fff" stroke="#111" stroke-width="1.25"/>
<circle cx="125.30" cy="275.31" r="2.6" fill="#fff" stroke="#111" stroke-width="1.25"/>
<circle cx="135.80" cy="275.31" r="2.6" fill="#fff" stroke="#111" stroke-width="1.25"/>
<circle cx="125.30" cy="283.60" r="2.6" fill="#fff" stroke="#111" stroke-width="1.25"/>
<circle cx="135.80" cy="282.19" r="2.6" fill="#fff" stroke="#111" stroke-width="1.25"/>
<rect x="122.70" y="268.51" width="16.20" height="16.43" fill="none" stroke="#111" stroke-width="1.35"/>
<line x1="122.70" y1="275.20" x2="138.90" y2="275.20" stroke="#111" stroke-width="1.35" />
<line x1="130.80" y1="268.51" x2="130.80" y2="256.86" stroke="#111" stroke-width="1.35" />
<line x1="130.80" y1="284.94" x2="130.80" y2="284.94" stroke="#111" stroke-width="1.35" />
<line x1="127.20" y1="256.86" x2="134.40" y2="256.86" stroke="#111" stroke-width="1.35" />
<line x1="127.20" y1="284.94" x2="134.40" y2="284.94" stroke="#111" stroke-width="1.35" />
<circle cx="150.40" cy="250.60" r="2.6" fill="#fff" stroke="#111" stroke-width="1.25"/>
<circle cx="161.40" cy="250.60" r="2.6" fill="#fff" stroke="#111" stroke-width="1.25"/>
<circle cx="155.90" cy="267.18" r="2.6" fill="#fff" stroke="#111" stroke-width="1.25"/>
<circle cx="155.90" cy="272.53" r="2.6" fill="#fff" stroke="#111" stroke-width="1.25"/>
<circle cx="155.90" cy="279.40" r="2.6" fill="#fff" stroke="#111" stroke-width="1.25"/>
<rect x="147.80" y="251.52" width="16.20" height="24.64" fill="none" stroke="#111" stroke-width="1.35"/>
<line x1="147.80" y1="266.53" x2="164.00" y2="266.53" stroke="#111" stroke-width="1.35" />
<line x1="155.90" y1="251.52" x2="155.90" y2="250.60" stroke="#111" stroke-width="1.35" />
<line x1="155.90" y1="276.15" x2="155.90" y2="279.40" stroke="#111" stroke-width="1.35" />
<line x1="152.30" y1="250.60" x2="159.50" y2="250.60" stroke="#111" stroke-width="1.35" />
<line x1="152.30" y1="279.40" x2="159.50" y2="279.40" stroke="#111" stroke-width="1.35" />
<circle cx="181.00" cy="238.91" r="2.6" fill="#fff" stroke="#111" stroke-width="1.25"/>
<circle cx="175.50" cy="279.52" r="2.6" fill="#fff" stroke="#111" stroke-width="1.25"/>
<circle cx="186.50" cy="279.52" r="2.6" fill="#fff" stroke="#111" stroke-width="1.25"/>
<circle cx="175.50" cy="287.69" r="2.6" fill="#fff" stroke="#111" stroke-width="1.25"/>
<circle cx="185.70" cy="284.94" r="2.6" fill="#fff" stroke="#111" stroke-width="1.25"/>
<rect x="172.90" y="258.89" width="16.20" height="27.43" fill="none" stroke="#111" stroke-width="1.35"/>
<line x1="172.90" y1="281.69" x2="189.10" y2="281.69" stroke="#111" stroke-width="1.35" />
<line x1="181.00" y1="258.89" x2="181.00" y2="238.91" stroke="#111" stroke-width="1.35" />
<line x1="181.00" y1="286.32" x2="181.00" y2="287.69" stroke="#111" stroke-width="1.35" />
<line x1="177.40" y1="238.91" x2="184.60" y2="238.91" stroke="#111" stroke-width="1.35" />
<line x1="177.40" y1="287.69" x2="184.60" y2="287.69" stroke="#111" stroke-width="1.35" />
<circle cx="206.10" cy="251.52" r="2.6" fill="#fff" stroke="#111" stroke-width="1.25"/>
<circle cx="206.10" cy="259.69" r="2.6" fill="#fff" stroke="#111" stroke-width="1.25"/>
<circle cx="206.10" cy="272.60" r="2.6" fill="#fff" stroke="#111" stroke-width="1.25"/>
<circle cx="206.10" cy="279.52" r="2.6" fill="#fff" stroke="#111" stroke-width="1.25"/>
<circle cx="206.10" cy="287.69" r="2.6" fill="#fff" stroke="#111" stroke-width="1.25"/>
<rect x="198.00" y="256.10" width="16.20" height="27.50" fill="none" stroke="#111" stroke-width="1.35"/>
<line x1="198.00" y1="273.40" x2="214.20" y2="273.40" stroke="#111" stroke-width="1.35" />
<line x1="206.10" y1="256.10" x2="206.10" y2="251.52" stroke="#111" stroke-width="1.35" />
<line x1="206.10" y1="283.60" x2="206.10" y2="287.69" stroke="#111" stroke-width="1.35" />
<line x1="202.50" y1="251.52" x2="209.70" y2="251.52" stroke="#111" stroke-width="1.35" />
<line x1="202.50" y1="287.69" x2="209.70" y2="287.69" stroke="#111" stroke-width="1.35" />
<text x="55.50" y="326.90" font-family="'Liberation Sans', sans-serif" font-size="8.0" text-anchor="middle" font-weight="normal" font-style="normal" fill="#111" stroke="#111" stroke-width="0.18" >Baseline</text>
<text x="55.50" y="335.80" font-family="'Liberation Sans', sans-serif" font-size="8.0" text-anchor="middle" font-weight="normal" font-style="normal" fill="#111" stroke="#111" stroke-width="0.18" >0</text>
<text x="55.50" y="344.10" font-family="'Liberation Sans', sans-serif" font-size="7.9" text-anchor="middle" font-weight="normal" font-style="italic" fill="#111" stroke="#111" stroke-width="0.18" >(n=24)</text>
<text x="80.60" y="326.90" font-family="'Liberation Sans', sans-serif" font-size="8.0" text-anchor="middle" font-weight="normal" font-style="normal" fill="#111" stroke="#111" stroke-width="0.18" >PBS</text>
<text x="80.60" y="335.80" font-family="'Liberation Sans', sans-serif" font-size="8.0" text-anchor="middle" font-weight="normal" font-style="normal" fill="#111" stroke="#111" stroke-width="0.18" >0</text>
<text x="80.60" y="344.10" font-family="'Liberation Sans', sans-serif" font-size="7.9" text-anchor="middle" font-weight="normal" font-style="italic" fill="#111" stroke="#111" stroke-width="0.18" >(n=3)</text>
<text x="105.70" y="326.90" font-family="'Liberation Sans', sans-serif" font-size="8.0" text-anchor="middle" font-weight="normal" font-style="normal" fill="#111" stroke="#111" stroke-width="0.18" >sctPA</text>
<text x="105.70" y="335.80" font-family="'Liberation Sans', sans-serif" font-size="8.0" text-anchor="middle" font-weight="normal" font-style="normal" fill="#111" stroke="#111" stroke-width="0.18" >1.0</text>
<text x="105.70" y="344.10" font-family="'Liberation Sans', sans-serif" font-size="7.9" text-anchor="middle" font-weight="normal" font-style="italic" fill="#111" stroke="#111" stroke-width="0.18" >(n=3)</text>
<text x="130.80" y="326.90" font-family="'Liberation Sans', sans-serif" font-size="8.0" text-anchor="middle" font-weight="normal" font-style="normal" fill="#111" stroke="#111" stroke-width="0.18" >sctPA</text>
<text x="130.80" y="335.80" font-family="'Liberation Sans', sans-serif" font-size="8.0" text-anchor="middle" font-weight="normal" font-style="normal" fill="#111" stroke="#111" stroke-width="0.18" >2.0</text>
<text x="130.80" y="344.10" font-family="'Liberation Sans', sans-serif" font-size="7.9" text-anchor="middle" font-weight="normal" font-style="italic" fill="#111" stroke="#111" stroke-width="0.18" >(n=6)</text>
<text x="155.90" y="326.90" font-family="'Liberation Sans', sans-serif" font-size="8.0" text-anchor="middle" font-weight="normal" font-style="normal" fill="#111" stroke="#111" stroke-width="0.18" >scuPA</text>
<text x="155.90" y="335.80" font-family="'Liberation Sans', sans-serif" font-size="8.0" text-anchor="middle" font-weight="normal" font-style="normal" fill="#111" stroke="#111" stroke-width="0.18" >2.0</text>
<text x="155.90" y="344.10" font-family="'Liberation Sans', sans-serif" font-size="7.9" text-anchor="middle" font-weight="normal" font-style="italic" fill="#111" stroke="#111" stroke-width="0.18" >(n=5)</text>
<text x="181.00" y="326.90" font-family="'Liberation Sans', sans-serif" font-size="8.0" text-anchor="middle" font-weight="normal" font-style="normal" fill="#111" stroke="#111" stroke-width="0.18" >sctPA</text>
<text x="181.00" y="335.80" font-family="'Liberation Sans', sans-serif" font-size="8.0" text-anchor="middle" font-weight="normal" font-style="normal" fill="#111" stroke="#111" stroke-width="0.18" >4.0</text>
<text x="181.00" y="344.10" font-family="'Liberation Sans', sans-serif" font-size="7.9" text-anchor="middle" font-weight="normal" font-style="italic" fill="#111" stroke="#111" stroke-width="0.18" >(n=5)</text>
<text x="206.10" y="326.90" font-family="'Liberation Sans', sans-serif" font-size="8.0" text-anchor="middle" font-weight="normal" font-style="normal" fill="#111" stroke="#111" stroke-width="0.18" >scuPA</text>
<text x="206.10" y="335.80" font-family="'Liberation Sans', sans-serif" font-size="8.0" text-anchor="middle" font-weight="normal" font-style="normal" fill="#111" stroke="#111" stroke-width="0.18" >4.0</text>
<text x="206.10" y="344.10" font-family="'Liberation Sans', sans-serif" font-size="7.9" text-anchor="middle" font-weight="normal" font-style="italic" fill="#111" stroke="#111" stroke-width="0.18" >(n=5)</text>
<text x="42.00" y="334.50" font-family="'Liberation Sans', sans-serif" font-size="7.9" text-anchor="end" font-weight="bold" font-style="normal" fill="#111" stroke="#111" stroke-width="0.08" >mg/kg</text>
<line x1="47.80" y1="348.10" x2="63.20" y2="348.10" stroke="#111" stroke-width="1.2" />
<text x="55.50" y="357.80" font-family="'Liberation Sans', sans-serif" font-size="7.9" text-anchor="middle" font-weight="bold" font-style="normal" fill="#111" stroke="#111" stroke-width="0.08" >0h</text>
<line x1="80.90" y1="348.10" x2="206.60" y2="348.10" stroke="#111" stroke-width="1.2" />
<text x="146.00" y="357.80" font-family="'Liberation Sans', sans-serif" font-size="7.9" text-anchor="middle" font-weight="bold" font-style="normal" fill="#111" stroke="#111" stroke-width="0.08" >24h</text>
<text x="257.20" y="192.60" font-family="'Liberation Serif', serif" font-size="10.5" text-anchor="start" font-weight="normal" font-style="normal" fill="#111" stroke="#111" stroke-width="0.18" >D</text>
<text x="238.60" y="255.30" font-family="'Liberation Sans', sans-serif" font-size="7.9" text-anchor="middle" font-weight="bold" font-style="normal" fill="#111" stroke="#111" stroke-width="0.08" transform="rotate(-90 238.60 255.30)" >TNF-α, pg/mL</text>
<line x1="262.40" y1="196.30" x2="262.40" y2="313.00" stroke="#111" stroke-width="1.3" />
<line x1="257.40" y1="306.80" x2="262.40" y2="306.80" stroke="#111" stroke-width="1.3" />
<text x="256.40" y="309.60" font-family="'Liberation Sans', sans-serif" font-size="7.8" text-anchor="end" font-weight="normal" font-style="normal" fill="#111" stroke="#111" stroke-width="0.18" >0</text>
<line x1="257.40" y1="279.30" x2="262.40" y2="279.30" stroke="#111" stroke-width="1.3" />
<text x="256.40" y="282.10" font-family="'Liberation Sans', sans-serif" font-size="7.8" text-anchor="end" font-weight="normal" font-style="normal" fill="#111" stroke="#111" stroke-width="0.18" >50</text>
<line x1="257.40" y1="251.80" x2="262.40" y2="251.80" stroke="#111" stroke-width="1.3" />
<text x="256.40" y="254.60" font-family="'Liberation Sans', sans-serif" font-size="7.8" text-anchor="end" font-weight="normal" font-style="normal" fill="#111" stroke="#111" stroke-width="0.18" >100</text>
<line x1="257.40" y1="224.30" x2="262.40" y2="224.30" stroke="#111" stroke-width="1.3" />
<text x="256.40" y="227.10" font-family="'Liberation Sans', sans-serif" font-size="7.8" text-anchor="end" font-weight="normal" font-style="normal" fill="#111" stroke="#111" stroke-width="0.18" >150</text>
<line x1="257.40" y1="196.80" x2="262.40" y2="196.80" stroke="#111" stroke-width="1.3" />
<text x="256.40" y="199.60" font-family="'Liberation Sans', sans-serif" font-size="7.8" text-anchor="end" font-weight="normal" font-style="normal" fill="#111" stroke="#111" stroke-width="0.18" >200</text>
<line x1="262.40" y1="312.50" x2="435.50" y2="312.50" stroke="#111" stroke-width="1.3" />
<line x1="273.30" y1="312.50" x2="273.30" y2="317.30" stroke="#111" stroke-width="1.3" />
<line x1="298.25" y1="312.50" x2="298.25" y2="317.30" stroke="#111" stroke-width="1.3" />
<line x1="323.20" y1="312.50" x2="323.20" y2="317.30" stroke="#111" stroke-width="1.3" />
<line x1="348.15" y1="312.50" x2="348.15" y2="317.30" stroke="#111" stroke-width="1.3" />
<line x1="373.10" y1="312.50" x2="373.10" y2="317.30" stroke="#111" stroke-width="1.3" />
<line x1="398.05" y1="312.50" x2="398.05" y2="317.30" stroke="#111" stroke-width="1.3" />
<line x1="423.00" y1="312.50" x2="423.00" y2="317.30" stroke="#111" stroke-width="1.3" />
<line x1="263.40" y1="306.80" x2="434.00" y2="306.80" stroke="#111" stroke-width="0.9" stroke-dasharray="1 1.5"/>
<circle cx="273.30" cy="216.05" r="2.6" fill="#fff" stroke="#111" stroke-width="1.25"/>
<circle cx="270.00" cy="221.82" r="2.6" fill="#fff" stroke="#111" stroke-width="1.25"/>
<circle cx="274.10" cy="222.32" r="2.6" fill="#fff" stroke="#111" stroke-width="1.25"/>
<circle cx="273.30" cy="231.06" r="2.6" fill="#fff" stroke="#111" stroke-width="1.25"/>
<circle cx="273.30" cy="241.07" r="2.6" fill="#fff" stroke="#111" stroke-width="1.25"/>
<circle cx="268.30" cy="251.80" r="2.6" fill="#fff" stroke="#111" stroke-width="1.25"/>
<circle cx="273.30" cy="251.80" r="2.6" fill="#fff" stroke="#111" stroke-width="1.25"/>
<circle cx="278.30" cy="251.80" r="2.6" fill="#fff" stroke="#111" stroke-width="1.25"/>
<circle cx="270.80" cy="257.30" r="2.6" fill="#fff" stroke="#111" stroke-width="1.25"/>
<circle cx="275.80" cy="257.30" r="2.6" fill="#fff" stroke="#111" stroke-width="1.25"/>
<circle cx="267.30" cy="265.00" r="2.6" fill="#fff" stroke="#111" stroke-width="1.25"/>
<circle cx="273.30" cy="265.55" r="2.6" fill="#fff" stroke="#111" stroke-width="1.25"/>
<circle cx="279.30" cy="265.55" r="2.6" fill="#fff" stroke="#111" stroke-width="1.25"/>
<circle cx="270.80" cy="270.50" r="2.6" fill="#fff" stroke="#111" stroke-width="1.25"/>
<circle cx="275.80" cy="269.95" r="2.6" fill="#fff" stroke="#111" stroke-width="1.25"/>
<circle cx="276.30" cy="275.73" r="2.6" fill="#fff" stroke="#111" stroke-width="1.25"/>
<circle cx="270.30" cy="279.85" r="2.6" fill="#fff" stroke="#111" stroke-width="1.25"/>
<circle cx="274.30" cy="285.90" r="2.6" fill="#fff" stroke="#111" stroke-width="1.25"/>
<circle cx="271.30" cy="289.92" r="2.6" fill="#fff" stroke="#111" stroke-width="1.25"/>
<circle cx="274.60" cy="297.45" r="2.6" fill="#fff" stroke="#111" stroke-width="1.25"/>
<circle cx="271.60" cy="302.51" r="2.6" fill="#fff" stroke="#111" stroke-width="1.25"/>
<circle cx="273.80" cy="283.15" r="2.6" fill="#fff" stroke="#111" stroke-width="1.25"/>
<rect x="265.20" y="249.33" width="16.20" height="26.67" fill="none" stroke="#111" stroke-width="1.35"/>
<line x1="265.20" y1="263.57" x2="281.40" y2="263.57" stroke="#111" stroke-width="1.35" />
<line x1="273.30" y1="249.33" x2="273.30" y2="216.05" stroke="#111" stroke-width="1.35" />
<line x1="273.30" y1="276.00" x2="273.30" y2="302.51" stroke="#111" stroke-width="1.35" />
<line x1="269.70" y1="216.05" x2="276.90" y2="216.05" stroke="#111" stroke-width="1.35" />
<line x1="269.70" y1="302.51" x2="276.90" y2="302.51" stroke="#111" stroke-width="1.35" />
<circle cx="298.25" cy="255.81" r="2.6" fill="#fff" stroke="#111" stroke-width="1.25"/>
<circle cx="298.25" cy="276.00" r="2.6" fill="#fff" stroke="#111" stroke-width="1.25"/>
<circle cx="298.25" cy="289.75" r="2.6" fill="#fff" stroke="#111" stroke-width="1.25"/>
<line x1="298.25" y1="289.75" x2="298.25" y2="255.81" stroke="#111" stroke-width="1.35" />
<line x1="294.65" y1="289.75" x2="301.85" y2="289.75" stroke="#111" stroke-width="1.35" />
<line x1="294.65" y1="255.81" x2="301.85" y2="255.81" stroke="#111" stroke-width="1.35" />
<line x1="289.95" y1="276.00" x2="306.55" y2="276.00" stroke="#111" stroke-width="1.9" />
<circle cx="318.20" cy="262.25" r="2.6" fill="#fff" stroke="#111" stroke-width="1.25"/>
<circle cx="328.20" cy="265.27" r="2.6" fill="#fff" stroke="#111" stroke-width="1.25"/>
<circle cx="323.20" cy="282.32" r="2.6" fill="#fff" stroke="#111" stroke-width="1.25"/>
<line x1="323.20" y1="282.32" x2="323.20" y2="262.25" stroke="#111" stroke-width="1.35" />
<line x1="319.60" y1="282.32" x2="326.80" y2="282.32" stroke="#111" stroke-width="1.35" />
<line x1="319.60" y1="262.25" x2="326.80" y2="262.25" stroke="#111" stroke-width="1.35" />
<line x1="314.90" y1="265.27" x2="331.50" y2="265.27" stroke="#111" stroke-width="1.9" />
<circle cx="343.15" cy="266.98" r="2.6" fill="#fff" stroke="#111" stroke-width="1.25"/>
<circle cx="353.45" cy="265.61" r="2.6" fill="#fff" stroke="#111" stroke-width="1.25"/>
<circle cx="343.15" cy="273.25" r="2.6" fill="#fff" stroke="#111" stroke-width="1.25"/>
<circle cx="353.45" cy="273.25" r="2.6" fill="#fff" stroke="#111" stroke-width="1.25"/>
<circle cx="348.15" cy="291.18" r="2.6" fill="#fff" stroke="#111" stroke-width="1.25"/>
<circle cx="348.15" cy="296.68" r="2.6" fill="#fff" stroke="#111" stroke-width="1.25"/>
<rect x="340.05" y="266.21" width="16.20" height="25.52" fill="none" stroke="#111" stroke-width="1.35"/>
<line x1="340.05" y1="273.31" x2="356.25" y2="273.31" stroke="#111" stroke-width="1.35" />
<line x1="348.15" y1="266.21" x2="348.15" y2="265.61" stroke="#111" stroke-width="1.35" />
<line x1="348.15" y1="291.73" x2="348.15" y2="296.68" stroke="#111" stroke-width="1.35" />
<line x1="344.55" y1="265.61" x2="351.75" y2="265.61" stroke="#111" stroke-width="1.35" />
<line x1="344.55" y1="296.68" x2="351.75" y2="296.68" stroke="#111" stroke-width="1.35" />
<circle cx="367.10" cy="273.03" r="2.6" fill="#fff" stroke="#111" stroke-width="1.25"/>
<circle cx="371.10" cy="272.70" r="2.6" fill="#fff" stroke="#111" stroke-width="1.25"/>
<circle cx="378.10" cy="273.25" r="2.6" fill="#fff" stroke="#111" stroke-width="1.25"/>
<circle cx="374.60" cy="276.55" r="2.6" fill="#fff" stroke="#111" stroke-width="1.25"/>
<circle cx="373.10" cy="291.40" r="2.6" fill="#fff" stroke="#111" stroke-width="1.25"/>
<rect x="365.00" y="273.25" width="16.20" height="10.23" fill="none" stroke="#111" stroke-width="1.35"/>
<line x1="365.00" y1="276.55" x2="381.20" y2="276.55" stroke="#111" stroke-width="1.35" />
<line x1="373.10" y1="273.25" x2="373.10" y2="272.98" stroke="#111" stroke-width="1.35" />
<line x1="373.10" y1="283.48" x2="373.10" y2="291.40" stroke="#111" stroke-width="1.35" />
<line x1="369.50" y1="272.98" x2="376.70" y2="272.98" stroke="#111" stroke-width="1.35" />
<line x1="369.50" y1="291.40" x2="376.70" y2="291.40" stroke="#111" stroke-width="1.35" />
<circle cx="398.05" cy="228.53" r="2.6" fill="#fff" stroke="#111" stroke-width="1.25"/>
<circle cx="398.05" cy="262.91" r="2.6" fill="#fff" stroke="#111" stroke-width="1.25"/>
<circle cx="392.75" cy="283.48" r="2.6" fill="#fff" stroke="#111" stroke-width="1.25"/>
<circle cx="403.55" cy="286.78" r="2.6" fill="#fff" stroke="#111" stroke-width="1.25"/>
<circle cx="398.05" cy="295.03" r="2.6" fill="#fff" stroke="#111" stroke-width="1.25"/>
<rect x="389.95" y="246.41" width="16.20" height="43.12" fill="none" stroke="#111" stroke-width="1.35"/>
<line x1="389.95" y1="282.11" x2="406.15" y2="282.11" stroke="#111" stroke-width="1.35" />
<line x1="398.05" y1="246.41" x2="398.05" y2="228.53" stroke="#111" stroke-width="1.35" />
<line x1="398.05" y1="289.53" x2="398.05" y2="295.03" stroke="#111" stroke-width="1.35" />
<line x1="394.45" y1="228.53" x2="401.65" y2="228.53" stroke="#111" stroke-width="1.35" />
<line x1="394.45" y1="295.03" x2="401.65" y2="295.03" stroke="#111" stroke-width="1.35" />
<circle cx="423.00" cy="249.99" r="2.6" fill="#fff" stroke="#111" stroke-width="1.25"/>
<circle cx="423.00" cy="264.29" r="2.6" fill="#fff" stroke="#111" stroke-width="1.25"/>
<circle cx="423.00" cy="294.48" r="2.6" fill="#fff" stroke="#111" stroke-width="1.25"/>
<circle cx="417.50" cy="304.93" r="2.6" fill="#fff" stroke="#111" stroke-width="1.25"/>
<circle cx="428.50" cy="303.28" r="2.6" fill="#fff" stroke="#111" stroke-width="1.25"/>
<rect x="414.90" y="257.41" width="16.20" height="46.69" fill="none" stroke="#111" stroke-width="1.35"/>
<line x1="414.90" y1="294.48" x2="431.10" y2="294.48" stroke="#111" stroke-width="1.35" />
<line x1="423.00" y1="257.41" x2="423.00" y2="249.99" stroke="#111" stroke-width="1.35" />
<line x1="423.00" y1="304.11" x2="423.00" y2="304.93" stroke="#111" stroke-width="1.35" />
<line x1="419.40" y1="249.99" x2="426.60" y2="249.99" stroke="#111" stroke-width="1.35" />
<line x1="419.40" y1="304.93" x2="426.60" y2="304.93" stroke="#111" stroke-width="1.35" />
<text x="273.30" y="325.20" font-family="'Liberation Sans', sans-serif" font-size="8.0" text-anchor="middle" font-weight="normal" font-style="normal" fill="#111" stroke="#111" stroke-width="0.18" >Baseline</text>
<text x="273.30" y="333.40" font-family="'Liberation Sans', sans-serif" font-size="8.0" text-anchor="middle" font-weight="normal" font-style="normal" fill="#111" stroke="#111" stroke-width="0.18" >0</text>
<text x="273.30" y="342.20" font-family="'Liberation Sans', sans-serif" font-size="7.9" text-anchor="middle" font-weight="normal" font-style="italic" fill="#111" stroke="#111" stroke-width="0.18" >(n=22)</text>
<text x="298.25" y="325.20" font-family="'Liberation Sans', sans-serif" font-size="8.0" text-anchor="middle" font-weight="normal" font-style="normal" fill="#111" stroke="#111" stroke-width="0.18" >PBS</text>
<text x="298.25" y="333.40" font-family="'Liberation Sans', sans-serif" font-size="8.0" text-anchor="middle" font-weight="normal" font-style="normal" fill="#111" stroke="#111" stroke-width="0.18" >0</text>
<text x="298.25" y="342.20" font-family="'Liberation Sans', sans-serif" font-size="7.9" text-anchor="middle" font-weight="normal" font-style="italic" fill="#111" stroke="#111" stroke-width="0.18" >(n=3)</text>
<text x="323.20" y="325.20" font-family="'Liberation Sans', sans-serif" font-size="8.0" text-anchor="middle" font-weight="normal" font-style="normal" fill="#111" stroke="#111" stroke-width="0.18" >sctPA</text>
<text x="323.20" y="333.40" font-family="'Liberation Sans', sans-serif" font-size="8.0" text-anchor="middle" font-weight="normal" font-style="normal" fill="#111" stroke="#111" stroke-width="0.18" >1.0</text>
<text x="323.20" y="342.20" font-family="'Liberation Sans', sans-serif" font-size="7.9" text-anchor="middle" font-weight="normal" font-style="italic" fill="#111" stroke="#111" stroke-width="0.18" >(n=3)</text>
<text x="348.15" y="325.20" font-family="'Liberation Sans', sans-serif" font-size="8.0" text-anchor="middle" font-weight="normal" font-style="normal" fill="#111" stroke="#111" stroke-width="0.18" >sctPA</text>
<text x="348.15" y="333.40" font-family="'Liberation Sans', sans-serif" font-size="8.0" text-anchor="middle" font-weight="normal" font-style="normal" fill="#111" stroke="#111" stroke-width="0.18" >2.0</text>
<text x="348.15" y="342.20" font-family="'Liberation Sans', sans-serif" font-size="7.9" text-anchor="middle" font-weight="normal" font-style="italic" fill="#111" stroke="#111" stroke-width="0.18" >(n=6)</text>
<text x="373.10" y="325.20" font-family="'Liberation Sans', sans-serif" font-size="8.0" text-anchor="middle" font-weight="normal" font-style="normal" fill="#111" stroke="#111" stroke-width="0.18" >scuPA</text>
<text x="373.10" y="333.40" font-family="'Liberation Sans', sans-serif" font-size="8.0" text-anchor="middle" font-weight="normal" font-style="normal" fill="#111" stroke="#111" stroke-width="0.18" >2.0</text>
<text x="373.10" y="342.20" font-family="'Liberation Sans', sans-serif" font-size="7.9" text-anchor="middle" font-weight="normal" font-style="italic" fill="#111" stroke="#111" stroke-width="0.18" >(n=5)</text>
<text x="398.05" y="325.20" font-family="'Liberation Sans', sans-serif" font-size="8.0" text-anchor="middle" font-weight="normal" font-style="normal" fill="#111" stroke="#111" stroke-width="0.18" >sctPA</text>
<text x="398.05" y="333.40" font-family="'Liberation Sans', sans-serif" font-size="8.0" text-anchor="middle" font-weight="normal" font-style="normal" fill="#111" stroke="#111" stroke-width="0.18" >4.0</text>
<text x="398.05" y="342.20" font-family="'Liberation Sans', sans-serif" font-size="7.9" text-anchor="middle" font-weight="normal" font-style="italic" fill="#111" stroke="#111" stroke-width="0.18" >(n=5)</text>
<text x="423.00" y="325.20" font-family="'Liberation Sans', sans-serif" font-size="8.0" text-anchor="middle" font-weight="normal" font-style="normal" fill="#111" stroke="#111" stroke-width="0.18" >scuPA</text>
<text x="423.00" y="333.40" font-family="'Liberation Sans', sans-serif" font-size="8.0" text-anchor="middle" font-weight="normal" font-style="normal" fill="#111" stroke="#111" stroke-width="0.18" >4.0</text>
<text x="423.00" y="342.20" font-family="'Liberation Sans', sans-serif" font-size="7.9" text-anchor="middle" font-weight="normal" font-style="italic" fill="#111" stroke="#111" stroke-width="0.18" >(n=5)</text>
<text x="259.50" y="332.60" font-family="'Liberation Sans', sans-serif" font-size="7.9" text-anchor="end" font-weight="bold" font-style="normal" fill="#111" stroke="#111" stroke-width="0.08" >mg/kg</text>
<line x1="265.60" y1="346.90" x2="281.00" y2="346.90" stroke="#111" stroke-width="1.2" />
<text x="273.30" y="356.90" font-family="'Liberation Sans', sans-serif" font-size="7.9" text-anchor="middle" font-weight="bold" font-style="normal" fill="#111" stroke="#111" stroke-width="0.08" >0h</text>
<line x1="297.15" y1="346.90" x2="423.50" y2="346.90" stroke="#111" stroke-width="1.2" />
<text x="357.70" y="358.10" font-family="'Liberation Sans', sans-serif" font-size="7.9" text-anchor="middle" font-weight="bold" font-style="normal" fill="#111" stroke="#111" stroke-width="0.08" >24h</text>
<text x="37.70" y="375.40" font-family="'Liberation Serif', serif" font-size="10" text-anchor="start" font-weight="bold" font-style="normal" fill="#111" stroke="#111" stroke-width="0.08" >E</text>
<text x="10.40" y="443.20" font-family="'Liberation Sans', sans-serif" font-size="7.9" text-anchor="middle" font-weight="bold" font-style="normal" fill="#111" stroke="#111" stroke-width="0.08" transform="rotate(-90 10.40 443.20)" >IL-6, pg/mL</text>
<line x1="45.40" y1="384.50" x2="45.40" y2="500.50" stroke="#111" stroke-width="1.3" />
<line x1="40.40" y1="493.40" x2="45.40" y2="493.40" stroke="#111" stroke-width="1.3" />
<text x="39.40" y="496.20" font-family="'Liberation Sans', sans-serif" font-size="7.8" text-anchor="end" font-weight="normal" font-style="normal" fill="#111" stroke="#111" stroke-width="0.18" >0</text>
<line x1="40.40" y1="466.30" x2="45.40" y2="466.30" stroke="#111" stroke-width="1.3" />
<text x="39.40" y="469.10" font-family="'Liberation Sans', sans-serif" font-size="7.8" text-anchor="end" font-weight="normal" font-style="normal" fill="#111" stroke="#111" stroke-width="0.18" >20,000</text>
<line x1="40.40" y1="439.20" x2="45.40" y2="439.20" stroke="#111" stroke-width="1.3" />
<text x="39.40" y="442.00" font-family="'Liberation Sans', sans-serif" font-size="7.8" text-anchor="end" font-weight="normal" font-style="normal" fill="#111" stroke="#111" stroke-width="0.18" >40,000</text>
<line x1="40.40" y1="412.10" x2="45.40" y2="412.10" stroke="#111" stroke-width="1.3" />
<text x="39.40" y="414.90" font-family="'Liberation Sans', sans-serif" font-size="7.8" text-anchor="end" font-weight="normal" font-style="normal" fill="#111" stroke="#111" stroke-width="0.18" >60,000</text>
<line x1="40.40" y1="385.00" x2="45.40" y2="385.00" stroke="#111" stroke-width="1.3" />
<text x="39.40" y="387.80" font-family="'Liberation Sans', sans-serif" font-size="7.8" text-anchor="end" font-weight="normal" font-style="normal" fill="#111" stroke="#111" stroke-width="0.18" >80,000</text>
<line x1="45.40" y1="500.00" x2="218.30" y2="500.00" stroke="#111" stroke-width="1.3" />
<line x1="56.20" y1="500.00" x2="56.20" y2="504.80" stroke="#111" stroke-width="1.3" />
<line x1="81.30" y1="500.00" x2="81.30" y2="504.80" stroke="#111" stroke-width="1.3" />
<line x1="106.40" y1="500.00" x2="106.40" y2="504.80" stroke="#111" stroke-width="1.3" />
<line x1="131.50" y1="500.00" x2="131.50" y2="504.80" stroke="#111" stroke-width="1.3" />
<line x1="156.60" y1="500.00" x2="156.60" y2="504.80" stroke="#111" stroke-width="1.3" />
<line x1="181.70" y1="500.00" x2="181.70" y2="504.80" stroke="#111" stroke-width="1.3" />
<line x1="206.80" y1="500.00" x2="206.80" y2="504.80" stroke="#111" stroke-width="1.3" />
<line x1="46.40" y1="493.40" x2="216.80" y2="493.40" stroke="#111" stroke-width="0.9" stroke-dasharray="1 1.5"/>
<circle cx="56.20" cy="460.20" r="2.6" fill="#fff" fill-opacity="0.3" stroke="#111" stroke-width="1.25"/>
<circle cx="56.20" cy="471.86" r="2.6" fill="#fff" fill-opacity="0.3" stroke="#111" stroke-width="1.25"/>
<circle cx="56.40" cy="472.67" r="2.6" fill="#fff" fill-opacity="0.3" stroke="#111" stroke-width="1.25"/>
<circle cx="56.20" cy="483.37" r="2.6" fill="#fff" fill-opacity="0.3" stroke="#111" stroke-width="1.25"/>
<circle cx="52.40" cy="487.57" r="2.6" fill="#fff" fill-opacity="0.3" stroke="#111" stroke-width="1.25"/>
<circle cx="58.70" cy="487.71" r="2.6" fill="#fff" fill-opacity="0.3" stroke="#111" stroke-width="1.25"/>
<circle cx="50.20" cy="487.98" r="2.6" fill="#fff" fill-opacity="0.3" stroke="#111" stroke-width="1.25"/>
<circle cx="62.00" cy="488.12" r="2.6" fill="#fff" fill-opacity="0.3" stroke="#111" stroke-width="1.25"/>
<circle cx="55.20" cy="488.66" r="2.6" fill="#fff" fill-opacity="0.3" stroke="#111" stroke-width="1.25"/>
<circle cx="60.20" cy="489.06" r="2.6" fill="#fff" fill-opacity="0.3" stroke="#111" stroke-width="1.25"/>
<circle cx="51.20" cy="489.33" r="2.6" fill="#fff" fill-opacity="0.3" stroke="#111" stroke-width="1.25"/>
<circle cx="57.00" cy="489.61" r="2.6" fill="#fff" fill-opacity="0.3" stroke="#111" stroke-width="1.25"/>
<circle cx="62.20" cy="489.74" r="2.6" fill="#fff" fill-opacity="0.3" stroke="#111" stroke-width="1.25"/>
<circle cx="53.20" cy="490.28" r="2.6" fill="#fff" fill-opacity="0.3" stroke="#111" stroke-width="1.25"/>
<circle cx="58.70" cy="490.55" r="2.6" fill="#fff" fill-opacity="0.3" stroke="#111" stroke-width="1.25"/>
<circle cx="50.20" cy="490.83" r="2.6" fill="#fff" fill-opacity="0.3" stroke="#111" stroke-width="1.25"/>
<circle cx="61.70" cy="491.10" r="2.6" fill="#fff" fill-opacity="0.3" stroke="#111" stroke-width="1.25"/>
<circle cx="54.70" cy="491.37" r="2.6" fill="#fff" fill-opacity="0.3" stroke="#111" stroke-width="1.25"/>
<circle cx="59.70" cy="491.64" r="2.6" fill="#fff" fill-opacity="0.3" stroke="#111" stroke-width="1.25"/>
<circle cx="51.70" cy="492.04" r="2.6" fill="#fff" fill-opacity="0.3" stroke="#111" stroke-width="1.25"/>
<circle cx="56.70" cy="492.18" r="2.6" fill="#fff" fill-opacity="0.3" stroke="#111" stroke-width="1.25"/>
<circle cx="62.00" cy="492.45" r="2.6" fill="#fff" fill-opacity="0.3" stroke="#111" stroke-width="1.25"/>
<circle cx="53.70" cy="492.72" r="2.6" fill="#fff" fill-opacity="0.3" stroke="#111" stroke-width="1.25"/>
<circle cx="58.70" cy="492.99" r="2.6" fill="#fff" fill-opacity="0.3" stroke="#111" stroke-width="1.25"/>
<circle cx="50.40" cy="493.40" r="2.6" fill="#fff" fill-opacity="0.3" stroke="#111" stroke-width="1.25"/>
<circle cx="60.80" cy="493.67" r="2.6" fill="#fff" fill-opacity="0.3" stroke="#111" stroke-width="1.25"/>
<circle cx="55.40" cy="493.54" r="2.6" fill="#fff" fill-opacity="0.3" stroke="#111" stroke-width="1.25"/>
<rect x="48.10" y="488.39" width="16.20" height="4.34" fill="none" stroke="#111" stroke-width="1.35"/>
<line x1="48.10" y1="490.96" x2="64.30" y2="490.96" stroke="#111" stroke-width="1.35" />
<line x1="56.20" y1="488.39" x2="56.20" y2="460.20" stroke="#111" stroke-width="1.35" />
<line x1="56.20" y1="492.72" x2="56.20" y2="493.40" stroke="#111" stroke-width="1.35" />
<line x1="52.60" y1="460.20" x2="59.80" y2="460.20" stroke="#111" stroke-width="1.35" />
<line x1="52.60" y1="493.40" x2="59.80" y2="493.40" stroke="#111" stroke-width="1.35" />
<circle cx="75.80" cy="492.51" r="2.6" fill="#fff" stroke="#111" stroke-width="1.25"/>
<circle cx="78.80" cy="488.52" r="2.6" fill="#fff" stroke="#111" stroke-width="1.25"/>
<circle cx="81.90" cy="491.50" r="2.6" fill="#fff" stroke="#111" stroke-width="1.25"/>
<circle cx="84.50" cy="489.10" r="2.6" fill="#fff" stroke="#111" stroke-width="1.25"/>
<circle cx="86.90" cy="493.10" r="2.6" fill="#fff" stroke="#111" stroke-width="1.25"/>
<rect x="74.80" y="488.93" width="13.00" height="3.79" fill="none" stroke="#111" stroke-width="1.35"/>
<line x1="74.80" y1="491.50" x2="87.80" y2="491.50" stroke="#111" stroke-width="1.35" />
<line x1="81.30" y1="488.93" x2="81.30" y2="488.52" stroke="#111" stroke-width="1.35" />
<line x1="81.30" y1="492.72" x2="81.30" y2="493.10" stroke="#111" stroke-width="1.35" />
<line x1="81.30" y1="488.52" x2="81.30" y2="488.52" stroke="#111" stroke-width="1.35" />
<line x1="81.30" y1="493.10" x2="81.30" y2="493.10" stroke="#111" stroke-width="1.35" />
<circle cx="100.90" cy="446.79" r="2.6" fill="#fff" stroke="#111" stroke-width="1.25"/>
<circle cx="111.40" cy="448.69" r="2.6" fill="#fff" stroke="#111" stroke-width="1.25"/>
<circle cx="106.60" cy="474.84" r="2.6" fill="#fff" stroke="#111" stroke-width="1.25"/>
<line x1="106.40" y1="474.84" x2="106.40" y2="446.79" stroke="#111" stroke-width="1.35" />
<line x1="102.80" y1="474.84" x2="110.00" y2="474.84" stroke="#111" stroke-width="1.35" />
<line x1="102.80" y1="446.79" x2="110.00" y2="446.79" stroke="#111" stroke-width="1.35" />
<line x1="98.10" y1="448.28" x2="114.70" y2="448.28" stroke="#111" stroke-width="1.9" />
<circle cx="131.50" cy="396.38" r="2.6" fill="#fff" stroke="#111" stroke-width="1.25"/>
<circle cx="131.50" cy="433.51" r="2.6" fill="#fff" stroke="#111" stroke-width="1.25"/>
<circle cx="126.00" cy="454.65" r="2.6" fill="#fff" stroke="#111" stroke-width="1.25"/>
<circle cx="136.70" cy="452.07" r="2.6" fill="#fff" stroke="#111" stroke-width="1.25"/>
<circle cx="136.70" cy="462.51" r="2.6" fill="#fff" stroke="#111" stroke-width="1.25"/>
<circle cx="126.00" cy="467.65" r="2.6" fill="#fff" stroke="#111" stroke-width="1.25"/>
<rect x="123.40" y="424.70" width="16.20" height="38.62" fill="none" stroke="#111" stroke-width="1.35"/>
<line x1="123.40" y1="453.16" x2="139.60" y2="453.16" stroke="#111" stroke-width="1.35" />
<line x1="131.50" y1="424.70" x2="131.50" y2="396.38" stroke="#111" stroke-width="1.35" />
<line x1="131.50" y1="463.32" x2="131.50" y2="467.65" stroke="#111" stroke-width="1.35" />
<line x1="127.90" y1="396.38" x2="135.10" y2="396.38" stroke="#111" stroke-width="1.35" />
<line x1="127.90" y1="467.65" x2="135.10" y2="467.65" stroke="#111" stroke-width="1.35" />
<circle cx="156.60" cy="456.41" r="2.6" fill="#fff" stroke="#111" stroke-width="1.25"/>
<circle cx="151.10" cy="481.11" r="2.6" fill="#fff" stroke="#111" stroke-width="1.25"/>
<circle cx="155.20" cy="478.41" r="2.6" fill="#fff" stroke="#111" stroke-width="1.25"/>
<circle cx="159.10" cy="479.71" r="2.6" fill="#fff" stroke="#111" stroke-width="1.25"/>
<circle cx="162.10" cy="479.17" r="2.6" fill="#fff" stroke="#111" stroke-width="1.25"/>
<rect x="148.50" y="468.60" width="16.20" height="14.90" fill="none" stroke="#111" stroke-width="1.35"/>
<line x1="148.50" y1="479.17" x2="164.70" y2="479.17" stroke="#111" stroke-width="1.35" />
<line x1="156.60" y1="468.60" x2="156.60" y2="456.41" stroke="#111" stroke-width="1.35" />
<line x1="156.60" y1="483.51" x2="156.60" y2="481.20" stroke="#111" stroke-width="1.35" />
<line x1="153.00" y1="456.41" x2="160.20" y2="456.41" stroke="#111" stroke-width="1.35" />
<line x1="153.00" y1="481.20" x2="160.20" y2="481.20" stroke="#111" stroke-width="1.35" />
<circle cx="181.70" cy="423.21" r="2.6" fill="#fff" stroke="#111" stroke-width="1.25"/>
<circle cx="186.70" cy="468.20" r="2.6" fill="#fff" stroke="#111" stroke-width="1.25"/>
<circle cx="176.90" cy="472.94" r="2.6" fill="#fff" stroke="#111" stroke-width="1.25"/>
<circle cx="186.70" cy="477.00" r="2.6" fill="#fff" stroke="#111" stroke-width="1.25"/>
<circle cx="176.90" cy="482.51" r="2.6" fill="#fff" stroke="#111" stroke-width="1.25"/>
<rect x="173.60" y="446.79" width="16.20" height="34.69" fill="none" stroke="#111" stroke-width="1.35"/>
<line x1="173.60" y1="472.32" x2="189.80" y2="472.32" stroke="#111" stroke-width="1.35" />
<line x1="181.70" y1="446.79" x2="181.70" y2="423.21" stroke="#111" stroke-width="1.35" />
<line x1="181.70" y1="481.48" x2="181.70" y2="482.70" stroke="#111" stroke-width="1.35" />
<line x1="178.10" y1="423.21" x2="185.30" y2="423.21" stroke="#111" stroke-width="1.35" />
<line x1="178.10" y1="482.70" x2="185.30" y2="482.70" stroke="#111" stroke-width="1.35" />
<circle cx="206.80" cy="466.57" r="2.6" fill="#fff" stroke="#111" stroke-width="1.25"/>
<circle cx="211.80" cy="474.21" r="2.6" fill="#fff" stroke="#111" stroke-width="1.25"/>
<circle cx="201.30" cy="481.11" r="2.6" fill="#fff" stroke="#111" stroke-width="1.25"/>
<circle cx="211.30" cy="481.91" r="2.6" fill="#fff" stroke="#111" stroke-width="1.25"/>
<circle cx="201.30" cy="486.08" r="2.6" fill="#fff" stroke="#111" stroke-width="1.25"/>
<rect x="198.70" y="471.52" width="16.20" height="13.69" fill="none" stroke="#111" stroke-width="1.35"/>
<line x1="198.70" y1="481.11" x2="214.90" y2="481.11" stroke="#111" stroke-width="1.35" />
<line x1="206.80" y1="471.52" x2="206.80" y2="466.57" stroke="#111" stroke-width="1.35" />
<line x1="206.80" y1="485.20" x2="206.80" y2="486.08" stroke="#111" stroke-width="1.35" />
<line x1="203.20" y1="466.57" x2="210.40" y2="466.57" stroke="#111" stroke-width="1.35" />
<line x1="203.20" y1="486.08" x2="210.40" y2="486.08" stroke="#111" stroke-width="1.35" />
<text x="56.20" y="512.80" font-family="'Liberation Sans', sans-serif" font-size="8.0" text-anchor="middle" font-weight="normal" font-style="normal" fill="#111" stroke="#111" stroke-width="0.18" >Baseline</text>
<text x="56.20" y="522.40" font-family="'Liberation Sans', sans-serif" font-size="8.0" text-anchor="middle" font-weight="normal" font-style="normal" fill="#111" stroke="#111" stroke-width="0.18" >0</text>
<text x="56.20" y="530.70" font-family="'Liberation Sans', sans-serif" font-size="7.9" text-anchor="middle" font-weight="normal" font-style="italic" fill="#111" stroke="#111" stroke-width="0.18" >(n=26)</text>
<text x="81.30" y="512.80" font-family="'Liberation Sans', sans-serif" font-size="8.0" text-anchor="middle" font-weight="normal" font-style="normal" fill="#111" stroke="#111" stroke-width="0.18" >PBS</text>
<text x="81.30" y="522.40" font-family="'Liberation Sans', sans-serif" font-size="8.0" text-anchor="middle" font-weight="normal" font-style="normal" fill="#111" stroke="#111" stroke-width="0.18" >0</text>
<text x="81.30" y="530.70" font-family="'Liberation Sans', sans-serif" font-size="7.9" text-anchor="middle" font-weight="normal" font-style="italic" fill="#111" stroke="#111" stroke-width="0.18" >(n=5)</text>
<text x="106.40" y="512.80" font-family="'Liberation Sans', sans-serif" font-size="8.0" text-anchor="middle" font-weight="normal" font-style="normal" fill="#111" stroke="#111" stroke-width="0.18" >sctPA</text>
<text x="106.40" y="522.40" font-family="'Liberation Sans', sans-serif" font-size="8.0" text-anchor="middle" font-weight="normal" font-style="normal" fill="#111" stroke="#111" stroke-width="0.18" >1.0</text>
<text x="106.40" y="530.70" font-family="'Liberation Sans', sans-serif" font-size="7.9" text-anchor="middle" font-weight="normal" font-style="italic" fill="#111" stroke="#111" stroke-width="0.18" >(n=3)</text>
<text x="131.50" y="512.80" font-family="'Liberation Sans', sans-serif" font-size="8.0" text-anchor="middle" font-weight="normal" font-style="normal" fill="#111" stroke="#111" stroke-width="0.18" >sctPA</text>
<text x="131.50" y="522.40" font-family="'Liberation Sans', sans-serif" font-size="8.0" text-anchor="middle" font-weight="normal" font-style="normal" fill="#111" stroke="#111" stroke-width="0.18" >2.0</text>
<text x="131.50" y="530.70" font-family="'Liberation Sans', sans-serif" font-size="7.9" text-anchor="middle" font-weight="normal" font-style="italic" fill="#111" stroke="#111" stroke-width="0.18" >(n=6)</text>
<text x="156.60" y="512.80" font-family="'Liberation Sans', sans-serif" font-size="8.0" text-anchor="middle" font-weight="normal" font-style="normal" fill="#111" stroke="#111" stroke-width="0.18" >scuPA</text>
<text x="156.60" y="522.40" font-family="'Liberation Sans', sans-serif" font-size="8.0" text-anchor="middle" font-weight="normal" font-style="normal" fill="#111" stroke="#111" stroke-width="0.18" >2.0</text>
<text x="156.60" y="530.70" font-family="'Liberation Sans', sans-serif" font-size="7.9" text-anchor="middle" font-weight="normal" font-style="italic" fill="#111" stroke="#111" stroke-width="0.18" >(n=5)</text>
<text x="181.70" y="512.80" font-family="'Liberation Sans', sans-serif" font-size="8.0" text-anchor="middle" font-weight="normal" font-style="normal" fill="#111" stroke="#111" stroke-width="0.18" >sctPA</text>
<text x="181.70" y="522.40" font-family="'Liberation Sans', sans-serif" font-size="8.0" text-anchor="middle" font-weight="normal" font-style="normal" fill="#111" stroke="#111" stroke-width="0.18" >4.0</text>
<text x="181.70" y="530.70" font-family="'Liberation Sans', sans-serif" font-size="7.9" text-anchor="middle" font-weight="normal" font-style="italic" fill="#111" stroke="#111" stroke-width="0.18" >(n=5)</text>
<text x="206.80" y="512.80" font-family="'Liberation Sans', sans-serif" font-size="8.0" text-anchor="middle" font-weight="normal" font-style="normal" fill="#111" stroke="#111" stroke-width="0.18" >scuPA</text>
<text x="206.80" y="522.40" font-family="'Liberation Sans', sans-serif" font-size="8.0" text-anchor="middle" font-weight="normal" font-style="normal" fill="#111" stroke="#111" stroke-width="0.18" >4.0</text>
<text x="206.80" y="530.70" font-family="'Liberation Sans', sans-serif" font-size="7.9" text-anchor="middle" font-weight="normal" font-style="italic" fill="#111" stroke="#111" stroke-width="0.18" >(n=5)</text>
<text x="43.50" y="521.10" font-family="'Liberation Sans', sans-serif" font-size="7.9" text-anchor="end" font-weight="bold" font-style="normal" fill="#111" stroke="#111" stroke-width="0.08" >mg/kg</text>
<line x1="48.50" y1="535.90" x2="63.90" y2="535.90" stroke="#111" stroke-width="1.2" />
<text x="56.20" y="545.50" font-family="'Liberation Sans', sans-serif" font-size="7.9" text-anchor="middle" font-weight="bold" font-style="normal" fill="#111" stroke="#111" stroke-width="0.08" >0h</text>
<line x1="81.90" y1="535.90" x2="207.30" y2="535.90" stroke="#111" stroke-width="1.2" />
<text x="145.50" y="545.50" font-family="'Liberation Sans', sans-serif" font-size="7.9" text-anchor="middle" font-weight="bold" font-style="normal" fill="#111" stroke="#111" stroke-width="0.08" >24h</text>
<text x="257.50" y="375.00" font-family="'Liberation Serif', serif" font-size="10" text-anchor="start" font-weight="bold" font-style="normal" fill="#111" stroke="#111" stroke-width="0.08" >F</text>
<text x="238.90" y="442.40" font-family="'Liberation Sans', sans-serif" font-size="7.9" text-anchor="middle" font-weight="bold" font-style="normal" fill="#111" stroke="#111" stroke-width="0.08" transform="rotate(-90 238.90 442.40)" >IL-8, pg/mL</text>
<line x1="268.20" y1="383.90" x2="268.20" y2="499.80" stroke="#111" stroke-width="1.3" />
<line x1="263.20" y1="493.20" x2="268.20" y2="493.20" stroke="#111" stroke-width="1.3" />
<text x="262.20" y="496.00" font-family="'Liberation Sans', sans-serif" font-size="7.8" text-anchor="end" font-weight="normal" font-style="normal" fill="#111" stroke="#111" stroke-width="0.18" >0</text>
<line x1="263.20" y1="466.00" x2="268.20" y2="466.00" stroke="#111" stroke-width="1.3" />
<text x="262.20" y="468.80" font-family="'Liberation Sans', sans-serif" font-size="7.8" text-anchor="end" font-weight="normal" font-style="normal" fill="#111" stroke="#111" stroke-width="0.18" >500</text>
<line x1="263.20" y1="438.80" x2="268.20" y2="438.80" stroke="#111" stroke-width="1.3" />
<text x="262.20" y="441.60" font-family="'Liberation Sans', sans-serif" font-size="7.8" text-anchor="end" font-weight="normal" font-style="normal" fill="#111" stroke="#111" stroke-width="0.18" >1,000</text>
<line x1="263.20" y1="411.60" x2="268.20" y2="411.60" stroke="#111" stroke-width="1.3" />
<text x="262.20" y="414.40" font-family="'Liberation Sans', sans-serif" font-size="7.8" text-anchor="end" font-weight="normal" font-style="normal" fill="#111" stroke="#111" stroke-width="0.18" >1,500</text>
<line x1="263.20" y1="384.40" x2="268.20" y2="384.40" stroke="#111" stroke-width="1.3" />
<text x="262.20" y="387.20" font-family="'Liberation Sans', sans-serif" font-size="7.8" text-anchor="end" font-weight="normal" font-style="normal" fill="#111" stroke="#111" stroke-width="0.18" >2,000</text>
<line x1="268.20" y1="499.30" x2="440.60" y2="499.30" stroke="#111" stroke-width="1.3" />
<line x1="279.00" y1="499.30" x2="279.00" y2="504.10" stroke="#111" stroke-width="1.3" />
<line x1="304.00" y1="499.30" x2="304.00" y2="504.10" stroke="#111" stroke-width="1.3" />
<line x1="329.00" y1="499.30" x2="329.00" y2="504.10" stroke="#111" stroke-width="1.3" />
<line x1="354.00" y1="499.30" x2="354.00" y2="504.10" stroke="#111" stroke-width="1.3" />
<line x1="379.00" y1="499.30" x2="379.00" y2="504.10" stroke="#111" stroke-width="1.3" />
<line x1="404.00" y1="499.30" x2="404.00" y2="504.10" stroke="#111" stroke-width="1.3" />
<line x1="429.00" y1="499.30" x2="429.00" y2="504.10" stroke="#111" stroke-width="1.3" />
<line x1="269.20" y1="493.20" x2="439.10" y2="493.20" stroke="#111" stroke-width="0.9" stroke-dasharray="1 1.5"/>
<circle cx="279.00" cy="461.92" r="2.6" fill="#fff" fill-opacity="0.3" stroke="#111" stroke-width="1.25"/>
<circle cx="279.00" cy="465.73" r="2.6" fill="#fff" fill-opacity="0.3" stroke="#111" stroke-width="1.25"/>
<circle cx="279.30" cy="482.59" r="2.6" fill="#fff" fill-opacity="0.3" stroke="#111" stroke-width="1.25"/>
<circle cx="283.50" cy="492.87" r="2.6" fill="#fff" fill-opacity="0.3" stroke="#111" stroke-width="1.25"/>
<circle cx="281.50" cy="485.20" r="2.6" fill="#fff" fill-opacity="0.3" stroke="#111" stroke-width="1.25"/>
<circle cx="272.30" cy="487.87" r="2.6" fill="#fff" fill-opacity="0.3" stroke="#111" stroke-width="1.25"/>
<circle cx="272.20" cy="491.84" r="2.6" fill="#fff" fill-opacity="0.3" stroke="#111" stroke-width="1.25"/>
<circle cx="285.30" cy="490.32" r="2.6" fill="#fff" fill-opacity="0.3" stroke="#111" stroke-width="1.25"/>
<circle cx="285.00" cy="491.51" r="2.6" fill="#fff" fill-opacity="0.3" stroke="#111" stroke-width="1.25"/>
<circle cx="285.60" cy="487.76" r="2.6" fill="#fff" fill-opacity="0.3" stroke="#111" stroke-width="1.25"/>
<circle cx="273.30" cy="489.23" r="2.6" fill="#fff" fill-opacity="0.3" stroke="#111" stroke-width="1.25"/>
<circle cx="277.30" cy="489.94" r="2.6" fill="#fff" fill-opacity="0.3" stroke="#111" stroke-width="1.25"/>
<circle cx="276.80" cy="488.30" r="2.6" fill="#fff" fill-opacity="0.3" stroke="#111" stroke-width="1.25"/>
<circle cx="275.10" cy="492.33" r="2.6" fill="#fff" fill-opacity="0.3" stroke="#111" stroke-width="1.25"/>
<circle cx="280.10" cy="490.64" r="2.6" fill="#fff" fill-opacity="0.3" stroke="#111" stroke-width="1.25"/>
<circle cx="281.50" cy="487.49" r="2.6" fill="#fff" fill-opacity="0.3" stroke="#111" stroke-width="1.25"/>
<circle cx="274.00" cy="486.02" r="2.6" fill="#fff" fill-opacity="0.3" stroke="#111" stroke-width="1.25"/>
<circle cx="276.60" cy="485.04" r="2.6" fill="#fff" fill-opacity="0.3" stroke="#111" stroke-width="1.25"/>
<circle cx="278.70" cy="486.07" r="2.6" fill="#fff" fill-opacity="0.3" stroke="#111" stroke-width="1.25"/>
<circle cx="281.10" cy="489.45" r="2.6" fill="#fff" fill-opacity="0.3" stroke="#111" stroke-width="1.25"/>
<circle cx="284.50" cy="487.05" r="2.6" fill="#fff" fill-opacity="0.3" stroke="#111" stroke-width="1.25"/>
<circle cx="276.10" cy="490.97" r="2.6" fill="#fff" fill-opacity="0.3" stroke="#111" stroke-width="1.25"/>
<circle cx="279.70" cy="492.93" r="2.6" fill="#fff" fill-opacity="0.3" stroke="#111" stroke-width="1.25"/>
<rect x="270.90" y="485.58" width="16.20" height="5.98" fill="none" stroke="#111" stroke-width="1.35"/>
<line x1="270.90" y1="488.85" x2="287.10" y2="488.85" stroke="#111" stroke-width="1.35" />
<line x1="279.00" y1="485.58" x2="279.00" y2="461.92" stroke="#111" stroke-width="1.35" />
<line x1="279.00" y1="491.57" x2="279.00" y2="493.20" stroke="#111" stroke-width="1.35" />
<line x1="275.40" y1="461.92" x2="282.60" y2="461.92" stroke="#111" stroke-width="1.35" />
<line x1="275.40" y1="493.20" x2="282.60" y2="493.20" stroke="#111" stroke-width="1.35" />
<circle cx="298.40" cy="476.06" r="2.6" fill="#fff" stroke="#111" stroke-width="1.25"/>
<circle cx="304.10" cy="481.61" r="2.6" fill="#fff" stroke="#111" stroke-width="1.25"/>
<circle cx="298.40" cy="486.67" r="2.6" fill="#fff" stroke="#111" stroke-width="1.25"/>
<circle cx="304.10" cy="487.76" r="2.6" fill="#fff" stroke="#111" stroke-width="1.25"/>
<circle cx="309.20" cy="488.03" r="2.6" fill="#fff" stroke="#111" stroke-width="1.25"/>
<circle cx="298.40" cy="490.75" r="2.6" fill="#fff" stroke="#111" stroke-width="1.25"/>
<rect x="295.90" y="478.89" width="16.20" height="11.86" fill="none" stroke="#111" stroke-width="1.35"/>
<line x1="295.90" y1="487.49" x2="312.10" y2="487.49" stroke="#111" stroke-width="1.35" />
<line x1="304.00" y1="478.89" x2="304.00" y2="476.06" stroke="#111" stroke-width="1.35" />
<line x1="304.00" y1="490.75" x2="304.00" y2="490.75" stroke="#111" stroke-width="1.35" />
<line x1="300.40" y1="476.06" x2="307.60" y2="476.06" stroke="#111" stroke-width="1.35" />
<line x1="300.40" y1="490.75" x2="307.60" y2="490.75" stroke="#111" stroke-width="1.35" />
<circle cx="329.00" cy="466.00" r="2.6" fill="#fff" stroke="#111" stroke-width="1.25"/>
<circle cx="329.00" cy="472.47" r="2.6" fill="#fff" stroke="#111" stroke-width="1.25"/>
<circle cx="329.00" cy="490.75" r="2.6" fill="#fff" stroke="#111" stroke-width="1.25"/>
<line x1="329.00" y1="490.75" x2="329.00" y2="466.00" stroke="#111" stroke-width="1.35" />
<line x1="325.40" y1="490.75" x2="332.60" y2="490.75" stroke="#111" stroke-width="1.35" />
<line x1="325.40" y1="466.00" x2="332.60" y2="466.00" stroke="#111" stroke-width="1.35" />
<line x1="320.70" y1="472.47" x2="337.30" y2="472.47" stroke="#111" stroke-width="1.9" />
<circle cx="354.00" cy="462.19" r="2.6" fill="#fff" stroke="#111" stroke-width="1.25"/>
<circle cx="354.00" cy="475.14" r="2.6" fill="#fff" stroke="#111" stroke-width="1.25"/>
<circle cx="349.40" cy="479.27" r="2.6" fill="#fff" stroke="#111" stroke-width="1.25"/>
<circle cx="359.00" cy="478.51" r="2.6" fill="#fff" stroke="#111" stroke-width="1.25"/>
<circle cx="354.00" cy="484.17" r="2.6" fill="#fff" stroke="#111" stroke-width="1.25"/>
<circle cx="359.00" cy="483.95" r="2.6" fill="#fff" stroke="#111" stroke-width="1.25"/>
<circle cx="354.00" cy="491.84" r="2.6" fill="#fff" stroke="#111" stroke-width="1.25"/>
<rect x="345.90" y="472.36" width="16.20" height="13.76" fill="none" stroke="#111" stroke-width="1.35"/>
<line x1="345.90" y1="479.27" x2="362.10" y2="479.27" stroke="#111" stroke-width="1.35" />
<line x1="354.00" y1="472.36" x2="354.00" y2="462.19" stroke="#111" stroke-width="1.35" />
<line x1="354.00" y1="486.13" x2="354.00" y2="491.84" stroke="#111" stroke-width="1.35" />
<line x1="350.40" y1="462.19" x2="357.60" y2="462.19" stroke="#111" stroke-width="1.35" />
<line x1="350.40" y1="491.84" x2="357.60" y2="491.84" stroke="#111" stroke-width="1.35" />
<circle cx="379.00" cy="473.72" r="2.6" fill="#fff" stroke="#111" stroke-width="1.25"/>
<circle cx="374.00" cy="482.86" r="2.6" fill="#fff" stroke="#111" stroke-width="1.25"/>
<circle cx="383.70" cy="481.94" r="2.6" fill="#fff" stroke="#111" stroke-width="1.25"/>
<circle cx="383.70" cy="489.45" r="2.6" fill="#fff" stroke="#111" stroke-width="1.25"/>
<circle cx="374.00" cy="493.47" r="2.6" fill="#fff" stroke="#111" stroke-width="1.25"/>
<rect x="370.90" y="479.27" width="16.20" height="12.89" fill="none" stroke="#111" stroke-width="1.35"/>
<line x1="370.90" y1="483.35" x2="387.10" y2="483.35" stroke="#111" stroke-width="1.35" />
<line x1="379.00" y1="479.27" x2="379.00" y2="473.72" stroke="#111" stroke-width="1.35" />
<line x1="379.00" y1="492.17" x2="379.00" y2="493.20" stroke="#111" stroke-width="1.35" />
<line x1="375.40" y1="473.72" x2="382.60" y2="473.72" stroke="#111" stroke-width="1.35" />
<line x1="375.40" y1="493.20" x2="382.60" y2="493.20" stroke="#111" stroke-width="1.35" />
<circle cx="404.00" cy="407.79" r="2.6" fill="#fff" stroke="#111" stroke-width="1.25"/>
<circle cx="404.00" cy="415.41" r="2.6" fill="#fff" stroke="#111" stroke-width="1.25"/>
<circle cx="404.00" cy="472.96" r="2.6" fill="#fff" stroke="#111" stroke-width="1.25"/>
<circle cx="404.00" cy="479.98" r="2.6" fill="#fff" stroke="#111" stroke-width="1.25"/>
<circle cx="404.00" cy="490.48" r="2.6" fill="#fff" stroke="#111" stroke-width="1.25"/>
<rect x="395.90" y="411.93" width="16.20" height="73.11" fill="none" stroke="#111" stroke-width="1.35"/>
<line x1="395.90" y1="472.96" x2="412.10" y2="472.96" stroke="#111" stroke-width="1.35" />
<line x1="404.00" y1="411.93" x2="404.00" y2="407.79" stroke="#111" stroke-width="1.35" />
<line x1="404.00" y1="485.04" x2="404.00" y2="490.48" stroke="#111" stroke-width="1.35" />
<line x1="400.40" y1="407.79" x2="407.60" y2="407.79" stroke="#111" stroke-width="1.35" />
<line x1="400.40" y1="490.48" x2="407.60" y2="490.48" stroke="#111" stroke-width="1.35" />
<circle cx="424.00" cy="482.05" r="2.6" fill="#fff" stroke="#111" stroke-width="1.25"/>
<circle cx="429.00" cy="481.18" r="2.6" fill="#fff" stroke="#111" stroke-width="1.25"/>
<circle cx="434.70" cy="485.42" r="2.6" fill="#fff" stroke="#111" stroke-width="1.25"/>
<circle cx="424.00" cy="486.13" r="2.6" fill="#fff" stroke="#111" stroke-width="1.25"/>
<circle cx="429.30" cy="487.11" r="2.6" fill="#fff" stroke="#111" stroke-width="1.25"/>
<circle cx="429.00" cy="493.20" r="2.6" fill="#fff" stroke="#111" stroke-width="1.25"/>
<rect x="420.90" y="482.86" width="16.20" height="6.53" fill="none" stroke="#111" stroke-width="1.35"/>
<line x1="420.90" y1="486.40" x2="437.10" y2="486.40" stroke="#111" stroke-width="1.35" />
<line x1="429.00" y1="482.86" x2="429.00" y2="481.18" stroke="#111" stroke-width="1.35" />
<line x1="429.00" y1="489.39" x2="429.00" y2="493.20" stroke="#111" stroke-width="1.35" />
<line x1="425.40" y1="481.18" x2="432.60" y2="481.18" stroke="#111" stroke-width="1.35" />
<line x1="425.40" y1="493.20" x2="432.60" y2="493.20" stroke="#111" stroke-width="1.35" />
<text x="279.00" y="512.20" font-family="'Liberation Sans', sans-serif" font-size="8.0" text-anchor="middle" font-weight="normal" font-style="normal" fill="#111" stroke="#111" stroke-width="0.18" >Baseline</text>
<text x="279.00" y="520.70" font-family="'Liberation Sans', sans-serif" font-size="8.0" text-anchor="middle" font-weight="normal" font-style="normal" fill="#111" stroke="#111" stroke-width="0.18" >0</text>
<text x="279.00" y="528.60" font-family="'Liberation Sans', sans-serif" font-size="7.9" text-anchor="middle" font-weight="normal" font-style="italic" fill="#111" stroke="#111" stroke-width="0.18" >(n=23)</text>
<text x="304.00" y="512.20" font-family="'Liberation Sans', sans-serif" font-size="8.0" text-anchor="middle" font-weight="normal" font-style="normal" fill="#111" stroke="#111" stroke-width="0.18" >PBS</text>
<text x="304.00" y="520.70" font-family="'Liberation Sans', sans-serif" font-size="8.0" text-anchor="middle" font-weight="normal" font-style="normal" fill="#111" stroke="#111" stroke-width="0.18" >0</text>
<text x="304.00" y="528.60" font-family="'Liberation Sans', sans-serif" font-size="7.9" text-anchor="middle" font-weight="normal" font-style="italic" fill="#111" stroke="#111" stroke-width="0.18" >(n=5)</text>
<text x="329.00" y="512.20" font-family="'Liberation Sans', sans-serif" font-size="8.0" text-anchor="middle" font-weight="normal" font-style="normal" fill="#111" stroke="#111" stroke-width="0.18" >sctPA</text>
<text x="329.00" y="520.70" font-family="'Liberation Sans', sans-serif" font-size="8.0" text-anchor="middle" font-weight="normal" font-style="normal" fill="#111" stroke="#111" stroke-width="0.18" >1.0</text>
<text x="329.00" y="528.60" font-family="'Liberation Sans', sans-serif" font-size="7.9" text-anchor="middle" font-weight="normal" font-style="italic" fill="#111" stroke="#111" stroke-width="0.18" >(n=3)</text>
<text x="354.00" y="512.20" font-family="'Liberation Sans', sans-serif" font-size="8.0" text-anchor="middle" font-weight="normal" font-style="normal" fill="#111" stroke="#111" stroke-width="0.18" >sctPA</text>
<text x="354.00" y="520.70" font-family="'Liberation Sans', sans-serif" font-size="8.0" text-anchor="middle" font-weight="normal" font-style="normal" fill="#111" stroke="#111" stroke-width="0.18" >2.0</text>
<text x="354.00" y="528.60" font-family="'Liberation Sans', sans-serif" font-size="7.9" text-anchor="middle" font-weight="normal" font-style="italic" fill="#111" stroke="#111" stroke-width="0.18" >(n=6)</text>
<text x="379.00" y="512.20" font-family="'Liberation Sans', sans-serif" font-size="8.0" text-anchor="middle" font-weight="normal" font-style="normal" fill="#111" stroke="#111" stroke-width="0.18" >scuPA</text>
<text x="379.00" y="520.70" font-family="'Liberation Sans', sans-serif" font-size="8.0" text-anchor="middle" font-weight="normal" font-style="normal" fill="#111" stroke="#111" stroke-width="0.18" >2.0</text>
<text x="379.00" y="528.60" font-family="'Liberation Sans', sans-serif" font-size="7.9" text-anchor="middle" font-weight="normal" font-style="italic" fill="#111" stroke="#111" stroke-width="0.18" >(n=5)</text>
<text x="404.00" y="512.20" font-family="'Liberation Sans', sans-serif" font-size="8.0" text-anchor="middle" font-weight="normal" font-style="normal" fill="#111" stroke="#111" stroke-width="0.18" >sctPA</text>
<text x="404.00" y="520.70" font-family="'Liberation Sans', sans-serif" font-size="8.0" text-anchor="middle" font-weight="normal" font-style="normal" fill="#111" stroke="#111" stroke-width="0.18" >4.0</text>
<text x="404.00" y="528.60" font-family="'Liberation Sans', sans-serif" font-size="7.9" text-anchor="middle" font-weight="normal" font-style="italic" fill="#111" stroke="#111" stroke-width="0.18" >(n=5)</text>
<text x="429.00" y="512.20" font-family="'Liberation Sans', sans-serif" font-size="8.0" text-anchor="middle" font-weight="normal" font-style="normal" fill="#111" stroke="#111" stroke-width="0.18" >scuPA</text>
<text x="429.00" y="520.70" font-family="'Liberation Sans', sans-serif" font-size="8.0" text-anchor="middle" font-weight="normal" font-style="normal" fill="#111" stroke="#111" stroke-width="0.18" >4.0</text>
<text x="429.00" y="528.60" font-family="'Liberation Sans', sans-serif" font-size="7.9" text-anchor="middle" font-weight="normal" font-style="italic" fill="#111" stroke="#111" stroke-width="0.18" >(n=5)</text>
<text x="264.30" y="519.60" font-family="'Liberation Sans', sans-serif" font-size="7.9" text-anchor="end" font-weight="bold" font-style="normal" fill="#111" stroke="#111" stroke-width="0.08" >mg/kg</text>
<line x1="271.30" y1="533.70" x2="286.70" y2="533.70" stroke="#111" stroke-width="1.2" />
<text x="279.00" y="543.10" font-family="'Liberation Sans', sans-serif" font-size="7.9" text-anchor="middle" font-weight="bold" font-style="normal" fill="#111" stroke="#111" stroke-width="0.08" >0h</text>
<line x1="304.00" y1="533.70" x2="429.50" y2="533.70" stroke="#111" stroke-width="1.2" />
<text x="368.60" y="543.90" font-family="'Liberation Sans', sans-serif" font-size="7.9" text-anchor="middle" font-weight="bold" font-style="normal" fill="#111" stroke="#111" stroke-width="0.08" >24h</text>
<polyline points="56.20,452.30 56.20,402.60 106.40,402.60 106.40,439.50" fill="none" stroke="#111" stroke-width="1.2"/>
<line x1="81.60" y1="392.95" x2="81.60" y2="398.05" stroke="#111" stroke-width="1.05" />
<line x1="79.39" y1="394.23" x2="83.81" y2="396.77" stroke="#111" stroke-width="1.05" />
<line x1="83.81" y1="394.23" x2="79.39" y2="396.77" stroke="#111" stroke-width="1.05" />
<polyline points="56.20,395.00 56.20,384.50 131.50,384.50 131.50,389.50" fill="none" stroke="#111" stroke-width="1.2"/>
<line x1="85.65" y1="375.55" x2="85.65" y2="380.65" stroke="#111" stroke-width="1.05" />
<line x1="83.44" y1="376.83" x2="87.86" y2="379.38" stroke="#111" stroke-width="1.05" />
<line x1="87.86" y1="376.83" x2="83.44" y2="379.38" stroke="#111" stroke-width="1.05" />
<line x1="92.35" y1="375.55" x2="92.35" y2="380.65" stroke="#111" stroke-width="1.05" />
<line x1="90.14" y1="376.83" x2="94.56" y2="379.38" stroke="#111" stroke-width="1.05" />
<line x1="94.56" y1="376.83" x2="90.14" y2="379.38" stroke="#111" stroke-width="1.05" />
<line x1="99.05" y1="375.55" x2="99.05" y2="380.65" stroke="#111" stroke-width="1.05" />
<line x1="96.84" y1="376.83" x2="101.26" y2="379.38" stroke="#111" stroke-width="1.05" />
<line x1="101.26" y1="376.83" x2="96.84" y2="379.38" stroke="#111" stroke-width="1.05" />
<line x1="105.75" y1="375.55" x2="105.75" y2="380.65" stroke="#111" stroke-width="1.05" />
<line x1="103.54" y1="376.83" x2="107.96" y2="379.38" stroke="#111" stroke-width="1.05" />
<line x1="107.96" y1="376.83" x2="103.54" y2="379.38" stroke="#111" stroke-width="1.05" />
<polyline points="56.20,378.00 56.20,369.70 181.70,369.70 181.70,416.00" fill="none" stroke="#111" stroke-width="1.2"/>
<line x1="119.50" y1="360.55" x2="119.50" y2="365.65" stroke="#111" stroke-width="1.05" />
<line x1="117.29" y1="361.83" x2="121.71" y2="364.38" stroke="#111" stroke-width="1.05" />
<line x1="121.71" y1="361.83" x2="117.29" y2="364.38" stroke="#111" stroke-width="1.05" />
</svg>
</body></html>
